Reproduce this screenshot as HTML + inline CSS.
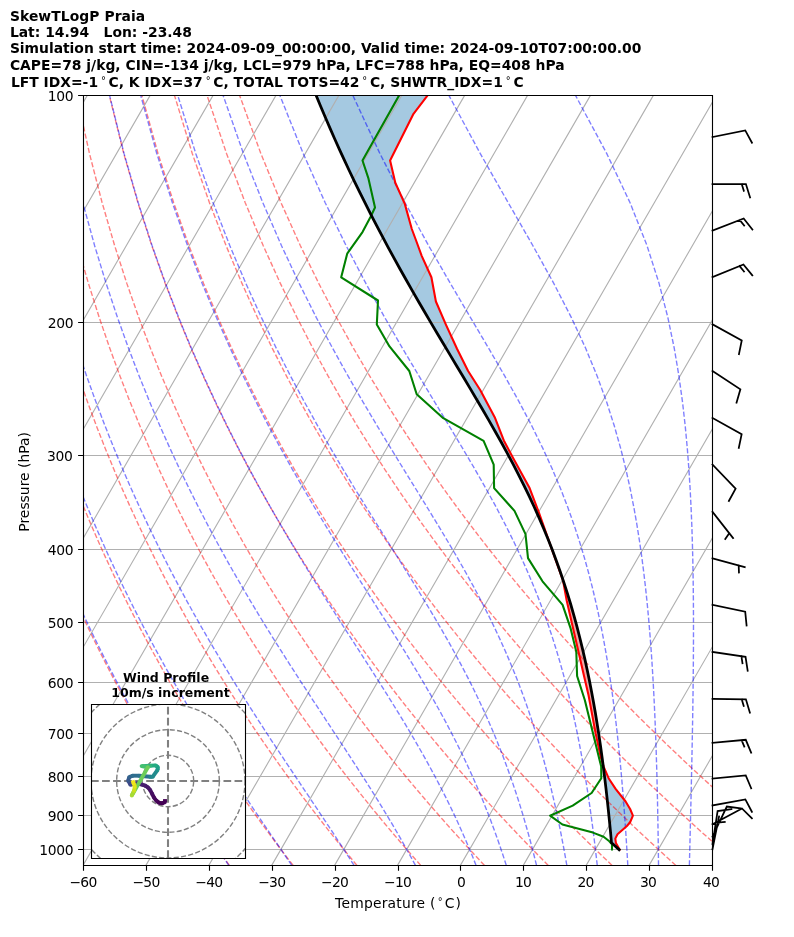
<!DOCTYPE html><html><head><meta charset="utf-8"><title>SkewTLogP Praia</title>
<style>html,body{margin:0;padding:0;background:#fff}svg{display:block;will-change:transform;transform:translateZ(0)}text{font-family:"DejaVu Sans","Liberation Sans",sans-serif;fill:#000}</style></head><body>
<svg width="794" height="937" viewBox="0 0 794 937">
<rect width="794" height="937" fill="#fff"/>
<defs><clipPath id="ax"><rect x="83.0" y="95.4" width="629.0" height="770.0"/></clipPath>
<clipPath id="hd"><rect x="91" y="704" width="154" height="154"/></clipPath></defs>
<g clip-path="url(#ax)">
<polygon points="316.15,95.4 316.36,95.9 316.57,96.4 316.77,96.9 316.98,97.4 317.19,97.9 317.39,98.4 317.6,98.9 317.8,99.4 318.01,99.9 318.22,100.4 318.42,100.9 318.63,101.4 318.84,101.9 319.04,102.4 319.25,102.9 319.45,103.4 319.66,103.9 319.87,104.4 320.07,104.9 320.28,105.4 320.48,105.9 320.69,106.4 320.9,106.9 321.11,107.4 321.33,107.9 321.54,108.4 321.75,108.9 321.96,109.4 322.17,109.9 322.38,110.4 322.59,110.9 322.8,111.4 323.01,111.9 323.22,112.4 323.43,112.9 323.64,113.4 323.86,113.9 324.07,114.4 324.28,114.9 324.49,115.4 324.7,115.9 324.91,116.4 325.12,116.9 325.33,117.4 325.55,117.9 325.77,118.4 325.98,118.9 326.2,119.4 326.41,119.9 326.63,120.4 326.84,120.9 327.06,121.4 327.27,121.9 327.49,122.4 327.71,122.9 327.92,123.4 328.14,123.9 328.35,124.4 328.57,124.9 328.78,125.4 329,125.9 329.21,126.4 329.43,126.9 329.65,127.4 329.86,127.9 330.08,128.4 330.3,128.9 330.52,129.4 330.74,129.9 330.96,130.4 331.18,130.9 331.4,131.4 331.62,131.9 331.84,132.4 332.06,132.9 332.28,133.4 332.5,133.9 332.72,134.4 332.94,134.9 333.16,135.4 333.38,135.9 333.61,136.4 333.83,136.9 334.05,137.4 334.27,137.9 334.49,138.4 334.71,138.9 334.93,139.4 335.16,139.9 335.38,140.4 335.61,140.9 335.83,141.4 336.06,141.9 336.28,142.4 336.51,142.9 336.73,143.4 336.96,143.9 337.18,144.4 337.41,144.9 337.63,145.4 337.86,145.9 338.08,146.4 338.31,146.9 338.53,147.4 338.76,147.9 338.98,148.4 339.21,148.9 339.43,149.4 339.66,149.9 339.89,150.4 340.12,150.9 340.35,151.4 340.58,151.9 340.81,152.4 341.04,152.9 341.27,153.4 341.5,153.9 341.73,154.4 341.96,154.9 342.19,155.4 342.42,155.9 342.65,156.4 342.88,156.9 343.11,157.4 343.34,157.9 343.57,158.4 343.8,158.9 344.03,159.4 344.26,159.9 344.49,160.4 344.72,160.9 344.96,161.4 345.19,161.9 345.42,162.4 345.66,162.9 345.89,163.4 346.13,163.9 346.36,164.4 346.6,164.9 346.83,165.4 347.07,165.9 347.3,166.4 347.54,166.9 347.77,167.4 348,167.9 348.24,168.4 348.47,168.9 348.71,169.4 348.94,169.9 349.18,170.4 349.41,170.9 349.65,171.4 349.89,171.9 350.13,172.4 350.37,172.9 350.61,173.4 350.84,173.9 351.08,174.4 351.32,174.9 351.56,175.4 351.8,175.9 352.04,176.4 352.28,176.9 352.52,177.4 352.76,177.9 353,178.4 353.24,178.9 353.48,179.4 353.72,179.9 353.96,180.4 354.2,180.9 354.43,181.4 354.67,181.9 354.92,182.4 355.16,182.9 355.4,183.4 355.65,183.9 355.89,184.4 356.14,184.9 356.38,185.4 356.63,185.9 356.87,186.4 357.11,186.9 357.36,187.4 357.6,187.9 357.85,188.4 358.09,188.9 358.33,189.4 358.58,189.9 358.82,190.4 359.07,190.9 359.31,191.4 359.55,191.9 359.8,192.4 360.04,192.9 360.29,193.4 360.54,193.9 360.79,194.4 361.04,194.9 361.29,195.4 361.54,195.9 361.79,196.4 362.03,196.9 362.28,197.4 362.53,197.9 362.78,198.4 363.03,198.9 363.28,199.4 363.53,199.9 363.78,200.4 364.02,200.9 364.27,201.4 364.52,201.9 364.77,202.4 365.02,202.9 365.27,203.4 365.52,203.9 365.77,204.4 366.03,204.9 366.28,205.4 366.53,205.9 366.79,206.4 367.04,206.9 367.3,207.4 367.55,207.9 367.8,208.4 368.06,208.9 368.31,209.4 368.56,209.9 368.82,210.4 369.07,210.9 369.32,211.4 369.58,211.9 369.83,212.4 370.09,212.9 370.34,213.4 370.59,213.9 370.85,214.4 371.1,214.9 371.36,215.4 371.62,215.9 371.88,216.4 372.14,216.9 372.39,217.4 372.65,217.9 372.91,218.4 373.17,218.9 373.43,219.4 373.69,219.9 373.94,220.4 374.2,220.9 374.46,221.4 374.72,221.9 374.98,222.4 375.24,222.9 375.49,223.4 375.75,223.9 376.01,224.4 376.27,224.9 376.53,225.4 376.79,225.9 377.05,226.4 377.32,226.9 377.58,227.4 377.84,227.9 378.11,228.4 378.37,228.9 378.63,229.4 378.89,229.9 379.16,230.4 379.42,230.9 379.68,231.4 379.95,231.9 380.21,232.4 380.47,232.9 380.73,233.4 381,233.9 381.26,234.4 381.52,234.9 381.79,235.4 382.05,235.9 382.31,236.4 382.58,236.9 382.85,237.4 383.12,237.9 383.38,238.4 383.65,238.9 383.92,239.4 384.19,239.9 384.45,240.4 384.72,240.9 384.99,241.4 385.26,241.9 385.52,242.4 385.79,242.9 386.06,243.4 386.33,243.9 386.59,244.4 386.86,244.9 387.13,245.4 387.4,245.9 387.66,246.4 387.93,246.9 388.2,247.4 388.47,247.9 388.75,248.4 389.02,248.9 389.29,249.4 389.56,249.9 389.83,250.4 390.1,250.9 390.38,251.4 390.65,251.9 390.92,252.4 391.19,252.9 391.46,253.4 391.74,253.9 392.01,254.4 392.28,254.9 392.55,255.4 392.82,255.9 393.1,256.4 393.37,256.9 393.64,257.4 393.91,257.9 394.19,258.4 394.46,258.9 394.74,259.4 395.02,259.9 395.29,260.4 395.57,260.9 395.84,261.4 396.12,261.9 396.4,262.4 396.67,262.9 396.95,263.4 397.23,263.9 397.5,264.4 397.78,264.9 398.05,265.4 398.33,265.9 398.61,266.4 398.88,266.9 399.16,267.4 399.44,267.9 399.71,268.4 399.99,268.9 400.27,269.4 400.55,269.9 400.83,270.4 401.11,270.9 401.39,271.4 401.67,271.9 401.95,272.4 402.23,272.9 402.51,273.4 402.79,273.9 403.07,274.4 403.35,274.9 403.63,275.4 403.91,275.9 404.19,276.4 404.47,276.9 404.75,277.4 405.03,277.9 405.31,278.4 405.59,278.9 405.87,279.4 406.16,279.9 406.44,280.4 406.73,280.9 407.01,281.4 407.29,281.9 407.58,282.4 407.86,282.9 408.15,283.4 408.43,283.9 408.71,284.4 409,284.9 409.28,285.4 409.57,285.9 409.85,286.4 410.13,286.9 410.42,287.4 410.7,287.9 410.99,288.4 411.27,288.9 411.56,289.4 411.84,289.9 412.12,290.4 412.41,290.9 412.7,291.4 412.99,291.9 413.27,292.4 413.56,292.9 413.85,293.4 414.14,293.9 414.42,294.4 414.71,294.9 415,295.4 415.29,295.9 415.58,296.4 415.86,296.9 416.15,297.4 416.44,297.9 416.73,298.4 417.01,298.9 417.3,299.4 417.59,299.9 417.88,300.4 418.16,300.9 418.45,301.4 418.74,301.9 419.04,302.4 419.33,302.9 419.62,303.4 419.91,303.9 420.2,304.4 420.49,304.9 420.78,305.4 421.07,305.9 421.36,306.4 421.65,306.9 421.94,307.4 422.23,307.9 422.53,308.4 422.82,308.9 423.11,309.4 423.4,309.9 423.69,310.4 423.98,310.9 424.27,311.4 424.56,311.9 424.85,312.4 425.15,312.9 425.44,313.4 425.74,313.9 426.03,314.4 426.32,314.9 426.62,315.4 426.91,315.9 427.2,316.4 427.5,316.9 427.79,317.4 428.09,317.9 428.38,318.4 428.67,318.9 428.97,319.4 429.26,319.9 429.55,320.4 429.85,320.9 430.14,321.4 430.43,321.9 430.73,322.4 431.02,322.9 431.32,323.4 431.61,323.9 431.91,324.4 432.21,324.9 432.5,325.4 432.8,325.9 433.09,326.4 433.39,326.9 433.69,327.4 433.98,327.9 434.28,328.4 434.58,328.9 434.87,329.4 435.17,329.9 435.46,330.4 435.76,330.9 436.06,331.4 436.35,331.9 436.65,332.4 436.94,332.9 437.24,333.4 437.54,333.9 437.83,334.4 438.13,334.9 438.43,335.4 438.73,335.9 439.03,336.4 439.32,336.9 439.62,337.4 439.92,337.9 440.22,338.4 440.52,338.9 440.81,339.4 441.11,339.9 441.41,340.4 441.71,340.9 442,341.4 442.3,341.9 442.6,342.4 442.9,342.9 443.2,343.4 443.49,343.9 443.79,344.4 444.09,344.9 444.39,345.4 444.69,345.9 444.99,346.4 445.29,346.9 445.59,347.4 445.89,347.9 446.18,348.4 446.48,348.9 446.78,349.4 447.08,349.9 447.38,350.4 447.68,350.9 447.98,351.4 448.28,351.9 448.58,352.4 448.88,352.9 449.17,353.4 449.47,353.9 449.77,354.4 450.07,354.9 450.37,355.4 450.67,355.9 450.97,356.4 451.27,356.9 451.57,357.4 451.87,357.9 452.17,358.4 452.47,358.9 452.77,359.4 453.07,359.9 453.37,360.4 453.67,360.9 453.97,361.4 454.27,361.9 454.57,362.4 454.87,362.9 455.17,363.4 455.46,363.9 455.76,364.4 456.06,364.9 456.36,365.4 456.66,365.9 456.96,366.4 457.26,366.9 457.56,367.4 457.86,367.9 458.16,368.4 458.46,368.9 458.76,369.4 459.06,369.9 459.36,370.4 459.66,370.9 459.96,371.4 460.26,371.9 460.56,372.4 460.86,372.9 461.15,373.4 461.45,373.9 461.75,374.4 462.05,374.9 462.35,375.4 462.65,375.9 462.95,376.4 463.25,376.9 463.55,377.4 463.85,377.9 464.15,378.4 464.44,378.9 464.74,379.4 465.04,379.9 465.34,380.4 465.64,380.9 465.94,381.4 466.24,381.9 466.53,382.4 466.83,382.9 467.13,383.4 467.43,383.9 467.73,384.4 468.03,384.9 468.32,385.4 468.62,385.9 468.92,386.4 469.22,386.9 469.52,387.4 469.82,387.9 470.11,388.4 470.41,388.9 470.71,389.4 471,389.9 471.3,390.4 471.6,390.9 471.89,391.4 472.19,391.9 472.48,392.4 472.78,392.9 473.08,393.4 473.37,393.9 473.67,394.4 473.97,394.9 474.26,395.4 474.56,395.9 474.86,396.4 475.15,396.9 475.45,397.4 475.75,397.9 476.04,398.4 476.34,398.9 476.63,399.4 476.93,399.9 477.22,400.4 477.51,400.9 477.81,401.4 478.1,401.9 478.4,402.4 478.69,402.9 478.98,403.4 479.28,403.9 479.57,404.4 479.86,404.9 480.16,405.4 480.45,405.9 480.75,406.4 481.04,406.9 481.33,407.4 481.63,407.9 481.92,408.4 482.22,408.9 482.51,409.4 482.8,409.9 483.09,410.4 483.38,410.9 483.67,411.4 483.96,411.9 484.25,412.4 484.54,412.9 484.83,413.4 485.12,413.9 485.41,414.4 485.7,414.9 485.99,415.4 486.28,415.9 486.57,416.4 486.86,416.9 487.15,417.4 487.44,417.9 487.73,418.4 488.02,418.9 488.31,419.4 488.6,419.9 488.89,420.4 489.18,420.9 489.47,421.4 489.75,421.9 490.04,422.4 490.32,422.9 490.61,423.4 490.89,423.9 491.18,424.4 491.47,424.9 491.75,425.4 492.04,425.9 492.32,426.4 492.61,426.9 492.89,427.4 493.18,427.9 493.46,428.4 493.75,428.9 494.04,429.4 494.32,429.9 494.61,430.4 494.89,430.9 495.18,431.4 495.46,431.9 495.74,432.4 496.02,432.9 496.3,433.4 496.58,433.9 496.86,434.4 497.14,434.9 497.42,435.4 497.7,435.9 497.98,436.4 498.26,436.9 498.54,437.4 498.82,437.9 499.1,438.4 499.38,438.9 499.66,439.4 499.94,439.9 500.22,440.4 500.5,440.9 500.78,441.4 501.06,441.9 501.34,442.4 501.61,442.9 501.89,443.4 502.16,443.9 502.43,444.4 502.71,444.9 502.98,445.4 503.26,445.9 503.53,446.4 503.8,446.9 504.08,447.4 504.35,447.9 504.63,448.4 504.9,448.9 505.17,449.4 505.45,449.9 505.72,450.4 506,450.9 506.27,451.4 506.55,451.9 506.82,452.4 507.09,452.9 507.36,453.4 507.63,453.9 507.89,454.4 508.16,454.9 508.43,455.4 508.7,455.9 508.96,456.4 509.23,456.9 509.5,457.4 509.76,457.9 510.03,458.4 510.3,458.9 510.57,459.4 510.83,459.9 511.1,460.4 511.37,460.9 511.63,461.4 511.9,461.9 512.17,462.4 512.44,462.9 512.7,463.4 512.97,463.9 513.23,464.4 513.49,464.9 513.74,465.4 514,465.9 514.26,466.4 514.52,466.9 514.78,467.4 515.04,467.9 515.3,468.4 515.56,468.9 515.82,469.4 516.08,469.9 516.34,470.4 516.6,470.9 516.86,471.4 517.12,471.9 517.38,472.4 517.64,472.9 517.9,473.4 518.16,473.9 518.42,474.4 518.67,474.9 518.92,475.4 519.17,475.9 519.42,476.4 519.67,476.9 519.92,477.4 520.18,477.9 520.43,478.4 520.68,478.9 520.93,479.4 521.18,479.9 521.43,480.4 521.68,480.9 521.94,481.4 522.19,481.9 522.44,482.4 522.69,482.9 522.94,483.4 523.19,483.9 523.44,484.4 523.69,484.9 523.94,485.4 524.19,485.9 524.43,486.4 524.67,486.9 524.92,487.4 525.16,487.9 525.4,488.4 525.64,488.9 525.89,489.4 526.13,489.9 526.37,490.4 526.61,490.9 526.86,491.4 527.1,491.9 527.34,492.4 527.58,492.9 527.83,493.4 528.07,493.9 528.31,494.4 528.55,494.9 528.8,495.4 529.04,495.9 529.28,496.4 529.51,496.9 529.75,497.4 529.98,497.9 530.21,498.4 530.45,498.9 530.68,499.4 530.91,499.9 531.15,500.4 531.38,500.9 531.61,501.4 531.85,501.9 532.08,502.4 532.32,502.9 532.55,503.4 532.78,503.9 533.02,504.4 533.25,504.9 533.48,505.4 533.72,505.9 533.95,506.4 534.18,506.9 534.41,507.4 534.63,507.9 534.86,508.4 535.08,508.9 535.31,509.4 535.53,509.9 535.76,510.4 535.98,510.9 536.21,511.4 536.43,511.9 536.65,512.4 536.88,512.9 537.1,513.4 537.33,513.9 537.55,514.4 537.78,514.9 538,515.4 538.22,515.9 538.45,516.4 538.67,516.9 538.9,517.4 539.12,517.9 539.34,518.4 539.55,518.9 539.77,519.4 539.98,519.9 540.2,520.4 540.41,520.9 540.63,521.4 540.84,521.9 541.05,522.4 541.27,522.9 541.48,523.4 541.7,523.9 541.91,524.4 542.13,524.9 542.34,525.4 542.56,525.9 542.77,526.4 542.99,526.9 543.2,527.4 543.42,527.9 543.63,528.4 543.84,528.9 544.05,529.4 544.26,529.9 544.46,530.4 544.67,530.9 544.87,531.4 545.08,531.9 545.28,532.4 545.49,532.9 545.69,533.4 545.9,533.9 546.11,534.4 546.31,534.9 546.52,535.4 546.72,535.9 546.93,536.4 547.13,536.9 547.34,537.4 547.54,537.9 547.75,538.4 547.95,538.9 548.16,539.4 548.36,539.9 548.55,540.4 548.75,540.9 548.95,541.4 549.14,541.9 549.34,542.4 549.53,542.9 549.73,543.4 549.76,543.4 549.58,542.9 549.41,542.4 549.23,541.9 549.05,541.4 548.88,540.9 548.7,540.4 548.52,539.9 548.35,539.4 548.17,538.9 548,538.4 547.82,537.9 547.64,537.4 547.47,536.9 547.29,536.4 547.11,535.9 546.94,535.4 546.76,534.9 546.58,534.4 546.41,533.9 546.23,533.4 546.06,532.9 545.88,532.4 545.7,531.9 545.53,531.4 545.35,530.9 545.17,530.4 545,529.9 544.82,529.4 544.64,528.9 544.47,528.4 544.29,527.9 544.12,527.4 543.94,526.9 543.76,526.4 543.59,525.9 543.41,525.4 543.23,524.9 543.06,524.4 542.88,523.9 542.7,523.4 542.53,522.9 542.35,522.4 542.17,521.9 542,521.4 541.82,520.9 541.65,520.4 541.47,519.9 541.29,519.4 541.12,518.9 540.94,518.4 540.76,517.9 540.59,517.4 540.41,516.9 540.23,516.4 540.06,515.9 539.88,515.4 539.71,514.9 539.53,514.4 539.35,513.9 539.18,513.4 539,512.9 538.81,512.4 538.62,511.9 538.43,511.4 538.24,510.9 538.05,510.4 537.86,509.9 537.67,509.4 537.48,508.9 537.29,508.4 537.1,507.9 536.92,507.4 536.73,506.9 536.54,506.4 536.35,505.9 536.16,505.4 535.97,504.9 535.78,504.4 535.59,503.9 535.4,503.4 535.21,502.9 535.02,502.4 534.83,501.9 534.64,501.4 534.45,500.9 534.26,500.4 534.07,499.9 533.88,499.4 533.69,498.9 533.5,498.4 533.31,497.9 533.12,497.4 532.94,496.9 532.75,496.4 532.56,495.9 532.37,495.4 532.18,494.9 531.99,494.4 531.8,493.9 531.61,493.4 531.42,492.9 531.23,492.4 531.04,491.9 530.85,491.4 530.66,490.9 530.47,490.4 530.28,489.9 530.09,489.4 529.9,488.9 529.71,488.4 529.49,487.9 529.22,487.4 528.94,486.9 528.67,486.4 528.39,485.9 528.12,485.4 527.84,484.9 527.57,484.4 527.29,483.9 527.02,483.4 526.75,482.9 526.47,482.4 526.2,481.9 525.92,481.4 525.65,480.9 525.37,480.4 525.1,479.9 524.82,479.4 524.55,478.9 524.27,478.4 524,477.9 523.73,477.4 523.45,476.9 523.18,476.4 522.9,475.9 522.63,475.4 522.35,474.9 522.08,474.4 521.8,473.9 521.53,473.4 521.25,472.9 520.98,472.4 520.71,471.9 520.43,471.4 520.16,470.9 519.88,470.4 519.61,469.9 519.33,469.4 519.06,468.9 518.78,468.4 518.51,467.9 518.24,467.4 517.96,466.9 517.69,466.4 517.41,465.9 517.14,465.4 516.86,464.9 516.59,464.4 516.31,463.9 516.04,463.4 515.76,462.9 515.49,462.4 515.22,461.9 514.94,461.4 514.67,460.9 514.39,460.4 514.12,459.9 513.84,459.4 513.57,458.9 513.29,458.4 513.02,457.9 512.75,457.4 512.48,456.9 512.22,456.4 511.96,455.9 511.69,455.4 511.43,454.9 511.17,454.4 510.91,453.9 510.64,453.4 510.38,452.9 510.12,452.4 509.85,451.9 509.59,451.4 509.33,450.9 509.06,450.4 508.8,449.9 508.54,449.4 508.27,448.9 508.01,448.4 507.75,447.9 507.48,447.4 507.22,446.9 506.96,446.4 506.69,445.9 506.43,445.4 506.17,444.9 505.91,444.4 505.64,443.9 505.38,443.4 505.12,442.9 504.85,442.4 504.59,441.9 504.33,441.4 504.06,440.9 503.8,440.4 503.6,439.9 503.41,439.4 503.21,438.9 503.02,438.4 502.82,437.9 502.62,437.4 502.43,436.9 502.23,436.4 502.03,435.9 501.84,435.4 501.64,434.9 501.45,434.4 501.25,433.9 501.05,433.4 500.86,432.9 500.66,432.4 500.47,431.9 500.27,431.4 500.07,430.9 499.88,430.4 499.68,429.9 499.49,429.4 499.29,428.9 499.09,428.4 498.9,427.9 498.7,427.4 498.5,426.9 498.31,426.4 498.11,425.9 497.92,425.4 497.72,424.9 497.52,424.4 497.33,423.9 497.13,423.4 496.94,422.9 496.74,422.4 496.54,421.9 496.35,421.4 496.15,420.9 495.96,420.4 495.76,419.9 495.56,419.4 495.37,418.9 495.17,418.4 494.97,417.9 494.78,417.4 494.54,416.9 494.27,416.4 494.01,415.9 493.74,415.4 493.47,414.9 493.21,414.4 492.94,413.9 492.67,413.4 492.41,412.9 492.14,412.4 491.87,411.9 491.61,411.4 491.34,410.9 491.07,410.4 490.81,409.9 490.54,409.4 490.28,408.9 490.01,408.4 489.74,407.9 489.48,407.4 489.21,406.9 488.94,406.4 488.68,405.9 488.41,405.4 488.14,404.9 487.88,404.4 487.61,403.9 487.34,403.4 487.08,402.9 486.81,402.4 486.54,401.9 486.28,401.4 486.01,400.9 485.74,400.4 485.48,399.9 485.21,399.4 484.94,398.9 484.68,398.4 484.41,397.9 484.14,397.4 483.88,396.9 483.61,396.4 483.35,395.9 483.08,395.4 482.81,394.9 482.55,394.4 482.28,393.9 482.01,393.4 481.75,392.9 481.48,392.4 481.21,391.9 480.95,391.4 480.68,390.9 480.41,390.4 480.14,389.9 479.82,389.4 479.5,388.9 479.18,388.4 478.86,387.9 478.54,387.4 478.23,386.9 477.91,386.4 477.59,385.9 477.27,385.4 476.95,384.9 476.63,384.4 476.32,383.9 476,383.4 475.68,382.9 475.36,382.4 475.04,381.9 474.72,381.4 474.4,380.9 474.09,380.4 473.77,379.9 473.45,379.4 473.13,378.9 472.81,378.4 472.49,377.9 472.18,377.4 471.86,376.9 471.54,376.4 471.22,375.9 470.9,375.4 470.58,374.9 470.27,374.4 469.95,373.9 469.63,373.4 469.31,372.9 468.99,372.4 468.67,371.9 468.35,371.4 468.05,370.9 467.8,370.4 467.55,369.9 467.3,369.4 467.05,368.9 466.8,368.4 466.55,367.9 466.3,367.4 466.05,366.9 465.8,366.4 465.55,365.9 465.3,365.4 465.05,364.9 464.8,364.4 464.55,363.9 464.3,363.4 464.05,362.9 463.8,362.4 463.55,361.9 463.3,361.4 463.05,360.9 462.8,360.4 462.55,359.9 462.3,359.4 462.05,358.9 461.8,358.4 461.55,357.9 461.3,357.4 461.05,356.9 460.8,356.4 460.55,355.9 460.3,355.4 460.05,354.9 459.8,354.4 459.55,353.9 459.3,353.4 459.05,352.9 458.8,352.4 458.55,351.9 458.3,351.4 458.05,350.9 457.8,350.4 457.55,349.9 457.3,349.4 457.05,348.9 456.82,348.4 456.59,347.9 456.36,347.4 456.13,346.9 455.9,346.4 455.67,345.9 455.44,345.4 455.21,344.9 454.98,344.4 454.75,343.9 454.52,343.4 454.29,342.9 454.06,342.4 453.84,341.9 453.61,341.4 453.38,340.9 453.15,340.4 452.92,339.9 452.69,339.4 452.46,338.9 452.23,338.4 452,337.9 451.77,337.4 451.54,336.9 451.31,336.4 451.08,335.9 450.85,335.4 450.62,334.9 450.4,334.4 450.17,333.9 449.94,333.4 449.71,332.9 449.48,332.4 449.25,331.9 449.02,331.4 448.79,330.9 448.56,330.4 448.33,329.9 448.1,329.4 447.87,328.9 447.64,328.4 447.41,327.9 447.18,327.4 446.95,326.9 446.73,326.4 446.5,325.9 446.27,325.4 446.04,324.9 445.81,324.4 445.6,323.9 445.38,323.4 445.16,322.9 444.95,322.4 444.73,321.9 444.51,321.4 444.3,320.9 444.08,320.4 443.87,319.9 443.65,319.4 443.43,318.9 443.22,318.4 443,317.9 442.78,317.4 442.57,316.9 442.35,316.4 442.13,315.9 441.92,315.4 441.7,314.9 441.48,314.4 441.27,313.9 441.05,313.4 440.84,312.9 440.62,312.4 440.4,311.9 440.19,311.4 439.97,310.9 439.75,310.4 439.54,309.9 439.32,309.4 439.1,308.9 438.89,308.4 438.67,307.9 438.45,307.4 438.24,306.9 438.02,306.4 437.8,305.9 437.59,305.4 437.37,304.9 437.16,304.4 436.94,303.9 436.72,303.4 436.51,302.9 436.29,302.4 436.07,301.9 435.88,301.4 435.79,300.9 435.7,300.4 435.6,299.9 435.51,299.4 435.42,298.9 435.32,298.4 435.23,297.9 435.14,297.4 435.04,296.9 434.95,296.4 434.86,295.9 434.77,295.4 434.67,294.9 434.58,294.4 434.49,293.9 434.39,293.4 434.3,292.9 434.21,292.4 434.11,291.9 434.02,291.4 433.93,290.9 433.84,290.4 433.74,289.9 433.65,289.4 433.56,288.9 433.46,288.4 433.37,287.9 433.28,287.4 433.19,286.9 433.09,286.4 433,285.9 432.91,285.4 432.81,284.9 432.72,284.4 432.63,283.9 432.53,283.4 432.44,282.9 432.35,282.4 432.26,281.9 432.16,281.4 432.07,280.9 431.98,280.4 431.88,279.9 431.79,279.4 431.7,278.9 431.6,278.4 431.51,277.9 431.42,277.4 431.22,276.9 430.99,276.4 430.77,275.9 430.54,275.4 430.31,274.9 430.09,274.4 429.86,273.9 429.63,273.4 429.41,272.9 429.18,272.4 428.95,271.9 428.73,271.4 428.5,270.9 428.28,270.4 428.05,269.9 427.82,269.4 427.6,268.9 427.37,268.4 427.14,267.9 426.92,267.4 426.69,266.9 426.46,266.4 426.24,265.9 426.01,265.4 425.78,264.9 425.56,264.4 425.33,263.9 425.11,263.4 424.88,262.9 424.65,262.4 424.43,261.9 424.2,261.4 423.97,260.9 423.75,260.4 423.52,259.9 423.29,259.4 423.07,258.9 422.84,258.4 422.62,257.9 422.39,257.4 422.16,256.9 421.94,256.4 421.73,255.9 421.54,255.4 421.36,254.9 421.18,254.4 420.99,253.9 420.81,253.4 420.63,252.9 420.44,252.4 420.26,251.9 420.08,251.4 419.89,250.9 419.71,250.4 419.53,249.9 419.34,249.4 419.16,248.9 418.98,248.4 418.8,247.9 418.61,247.4 418.43,246.9 418.25,246.4 418.06,245.9 417.88,245.4 417.7,244.9 417.51,244.4 417.33,243.9 417.15,243.4 416.96,242.9 416.78,242.4 416.6,241.9 416.41,241.4 416.23,240.9 416.05,240.4 415.86,239.9 415.68,239.4 415.49,238.9 415.3,238.4 415.12,237.9 414.93,237.4 414.74,236.9 414.56,236.4 414.37,235.9 414.19,235.4 414,234.9 413.81,234.4 413.63,233.9 413.44,233.4 413.25,232.9 413.07,232.4 412.88,231.9 412.69,231.4 412.51,230.9 412.32,230.4 412.14,229.9 411.95,229.4 411.77,228.9 411.63,228.4 411.49,227.9 411.35,227.4 411.21,226.9 411.07,226.4 410.94,225.9 410.8,225.4 410.66,224.9 410.52,224.4 410.38,223.9 410.24,223.4 410.1,222.9 409.96,222.4 409.82,221.9 409.68,221.4 409.54,220.9 409.4,220.4 409.26,219.9 409.12,219.4 408.98,218.9 408.84,218.4 408.7,217.9 408.56,217.4 408.43,216.9 408.29,216.4 408.15,215.9 408.01,215.4 407.87,214.9 407.73,214.4 407.59,213.9 407.45,213.4 407.31,212.9 407.17,212.4 407.03,211.9 406.89,211.4 406.75,210.9 406.61,210.4 406.47,209.9 406.33,209.4 406.19,208.9 406.05,208.4 405.92,207.9 405.78,207.4 405.64,206.9 405.5,206.4 405.36,205.9 405.22,205.4 405.08,204.9 404.94,204.4 404.8,203.9 404.58,203.4 404.35,202.9 404.13,202.4 403.9,201.9 403.68,201.4 403.46,200.9 403.23,200.4 403.01,199.9 402.78,199.4 402.56,198.9 402.34,198.4 402.11,197.9 401.89,197.4 401.66,196.9 401.44,196.4 401.22,195.9 400.99,195.4 400.77,194.9 400.54,194.4 400.32,193.9 400.09,193.4 399.87,192.9 399.65,192.4 399.42,191.9 399.2,191.4 398.97,190.9 398.75,190.4 398.53,189.9 398.3,189.4 398.08,188.9 397.85,188.4 397.63,187.9 397.41,187.4 397.18,186.9 396.96,186.4 396.73,185.9 396.51,185.4 396.29,184.9 396.06,184.4 395.84,183.9 395.61,183.4 395.39,182.9 395.23,182.4 395.11,181.9 395,181.4 394.88,180.9 394.76,180.4 394.64,179.9 394.53,179.4 394.41,178.9 394.29,178.4 394.18,177.9 394.06,177.4 393.94,176.9 393.82,176.4 393.71,175.9 393.59,175.4 393.47,174.9 393.36,174.4 393.24,173.9 393.12,173.4 393,172.9 392.89,172.4 392.77,171.9 392.65,171.4 392.54,170.9 392.42,170.4 392.3,169.9 392.18,169.4 392.07,168.9 391.95,168.4 391.83,167.9 391.72,167.4 391.6,166.9 391.48,166.4 391.36,165.9 391.25,165.4 391.13,164.9 391.01,164.4 390.9,163.9 390.78,163.4 390.66,162.9 390.55,162.4 390.43,161.9 390.31,161.4 390.19,160.9 390.15,160.4 390.4,159.9 390.65,159.4 390.9,158.9 391.15,158.4 391.4,157.9 391.65,157.4 391.9,156.9 392.15,156.4 392.4,155.9 392.66,155.4 392.91,154.9 393.16,154.4 393.41,153.9 393.66,153.4 393.91,152.9 394.16,152.4 394.41,151.9 394.66,151.4 394.91,150.9 395.16,150.4 395.41,149.9 395.66,149.4 395.91,148.9 396.16,148.4 396.41,147.9 396.66,147.4 396.91,146.9 397.17,146.4 397.42,145.9 397.67,145.4 397.92,144.9 398.17,144.4 398.42,143.9 398.67,143.4 398.92,142.9 399.17,142.4 399.42,141.9 399.67,141.4 399.92,140.9 400.17,140.4 400.42,139.9 400.67,139.4 400.92,138.9 401.17,138.4 401.42,137.9 401.67,137.4 401.93,136.9 402.18,136.4 402.43,135.9 402.68,135.4 402.93,134.9 403.18,134.4 403.43,133.9 403.68,133.4 403.93,132.9 404.18,132.4 404.43,131.9 404.68,131.4 404.93,130.9 405.18,130.4 405.43,129.9 405.68,129.4 405.93,128.9 406.18,128.4 406.43,127.9 406.69,127.4 406.94,126.9 407.19,126.4 407.44,125.9 407.69,125.4 407.94,124.9 408.19,124.4 408.44,123.9 408.69,123.4 408.94,122.9 409.19,122.4 409.44,121.9 409.69,121.4 409.94,120.9 410.19,120.4 410.44,119.9 410.69,119.4 410.94,118.9 411.2,118.4 411.45,117.9 411.7,117.4 411.95,116.9 412.2,116.4 412.45,115.9 412.7,115.4 412.95,114.9 413.2,114.4 413.45,113.9 413.81,113.4 414.19,112.9 414.57,112.4 414.96,111.9 415.34,111.4 415.72,110.9 416.11,110.4 416.49,109.9 416.87,109.4 417.25,108.9 417.64,108.4 418.02,107.9 418.4,107.4 418.79,106.9 419.17,106.4 419.55,105.9 419.94,105.4 420.32,104.9 420.7,104.4 421.09,103.9 421.47,103.4 421.85,102.9 422.24,102.4 422.62,101.9 423,101.4 423.39,100.9 423.77,100.4 424.15,99.9 424.53,99.4 424.92,98.9 425.3,98.4 425.68,97.9 426.07,97.4 426.45,96.9 426.83,96.4 427.22,95.9 427.6,95.4" fill="#a5c9e1"/>
<polygon points="603.08,764.9 603.14,765.4 603.21,765.9 603.27,766.4 603.34,766.9 603.4,767.4 603.47,767.9 603.53,768.4 603.59,768.9 603.65,769.4 603.72,769.9 603.78,770.4 603.84,770.9 603.9,771.4 603.97,771.9 604.03,772.4 604.09,772.9 604.15,773.4 604.22,773.9 604.28,774.4 604.34,774.9 604.4,775.4 604.47,775.9 604.53,776.4 604.59,776.9 604.65,777.4 604.72,777.9 604.78,778.4 604.84,778.9 604.89,779.4 604.95,779.9 605.01,780.4 605.07,780.9 605.13,781.4 605.19,781.9 605.25,782.4 605.31,782.9 605.37,783.4 605.43,783.9 605.49,784.4 605.55,784.9 605.61,785.4 605.67,785.9 605.73,786.4 605.78,786.9 605.84,787.4 605.9,787.9 605.96,788.4 606.02,788.9 606.08,789.4 606.13,789.9 606.19,790.4 606.25,790.9 606.3,791.4 606.36,791.9 606.41,792.4 606.47,792.9 606.53,793.4 606.58,793.9 606.64,794.4 606.7,794.9 606.75,795.4 606.81,795.9 606.86,796.4 606.92,796.9 606.98,797.4 607.03,797.9 607.09,798.4 607.15,798.9 607.2,799.4 607.26,799.9 607.31,800.4 607.36,800.9 607.42,801.4 607.47,801.9 607.52,802.4 607.58,802.9 607.63,803.4 607.68,803.9 607.74,804.4 607.79,804.9 607.84,805.4 607.9,805.9 607.95,806.4 608,806.9 608.06,807.4 608.11,807.9 608.16,808.4 608.22,808.9 608.27,809.4 608.32,809.9 608.38,810.4 608.43,810.9 608.48,811.4 608.53,811.9 608.58,812.4 608.63,812.9 608.68,813.4 608.73,813.9 608.78,814.4 608.83,814.9 608.88,815.4 608.93,815.9 608.98,816.4 609.03,816.9 609.09,817.4 609.14,817.9 609.19,818.4 609.24,818.9 609.29,819.4 609.34,819.9 609.39,820.4 609.44,820.9 609.49,821.4 609.54,821.9 609.59,822.4 609.63,822.9 609.68,823.4 609.73,823.9 609.78,824.4 609.83,824.9 609.87,825.4 609.92,825.9 609.97,826.4 610.02,826.9 610.07,827.4 610.12,827.9 610.16,828.4 610.21,828.9 610.26,829.4 610.31,829.9 610.36,830.4 610.4,830.9 610.45,831.4 610.5,831.9 610.55,832.4 610.59,832.9 610.64,833.4 610.68,833.9 610.73,834.4 610.78,834.9 610.82,835.4 610.87,835.9 610.91,836.4 610.96,836.9 611.01,837.4 611.05,837.9 611.1,838.4 611.14,838.9 611.19,839.4 611.23,839.9 611.28,840.4 611.33,840.9 611.37,841.4 611.42,841.9 611.46,842.4 611.61,842.9 612.17,843.4 612.73,843.9 613.28,844.4 613.84,844.9 614.4,845.4 614.96,845.9 615.52,846.4 616.07,846.9 616.63,847.4 617.19,847.9 617.75,848.4 618.3,848.9 618.86,849.4 619.42,849.9 619.98,850.4 620.2,850.4 619.91,849.9 619.62,849.4 619.33,848.9 619.04,848.4 618.75,847.9 618.46,847.4 618.17,846.9 617.88,846.4 617.59,845.9 617.29,845.4 617,844.9 616.71,844.4 616.42,843.9 616.13,843.4 615.89,842.9 615.82,842.4 615.75,841.9 615.68,841.4 615.61,840.9 615.55,840.4 615.48,839.9 615.41,839.4 615.34,838.9 615.4,838.4 615.65,837.9 615.9,837.4 616.15,836.9 616.4,836.4 616.65,835.9 616.9,835.4 617.15,834.9 617.4,834.4 617.84,833.9 618.42,833.4 618.99,832.9 619.56,832.4 620.14,831.9 620.71,831.4 621.28,830.9 621.86,830.4 622.43,829.9 623,829.4 623.58,828.9 624.15,828.4 624.72,827.9 625.3,827.4 625.87,826.9 626.44,826.4 626.99,825.9 627.42,825.4 627.85,824.9 628.28,824.4 628.72,823.9 629.15,823.4 629.58,822.9 630.01,822.4 630.27,821.9 630.48,821.4 630.69,820.9 630.89,820.4 631.1,819.9 631.31,819.4 631.52,818.9 631.73,818.4 631.94,817.9 632.15,817.4 632.36,816.9 632.57,816.4 632.77,815.9 632.82,815.4 632.6,814.9 632.39,814.4 632.18,813.9 631.97,813.4 631.75,812.9 631.54,812.4 631.33,811.9 631.12,811.4 630.91,810.9 630.69,810.4 630.48,809.9 630.27,809.4 630.04,808.9 629.74,808.4 629.44,807.9 629.14,807.4 628.84,806.9 628.54,806.4 628.24,805.9 627.94,805.4 627.64,804.9 627.34,804.4 627.04,803.9 626.74,803.4 626.44,802.9 626.14,802.4 625.84,801.9 625.52,801.4 625.12,800.9 624.73,800.4 624.33,799.9 623.93,799.4 623.54,798.9 623.14,798.4 622.74,797.9 622.35,797.4 621.95,796.9 621.55,796.4 621.16,795.9 620.76,795.4 620.36,794.9 619.97,794.4 619.57,793.9 619.17,793.4 618.77,792.9 618.38,792.4 617.98,791.9 617.58,791.4 617.19,790.9 616.79,790.4 616.39,789.9 616,789.4 615.6,788.9 615.27,788.4 614.95,787.9 614.62,787.4 614.29,786.9 613.96,786.4 613.64,785.9 613.31,785.4 612.98,784.9 612.66,784.4 612.33,783.9 612,783.4 611.67,782.9 611.35,782.4 611.02,781.9 610.69,781.4 610.37,780.9 610.04,780.4 609.71,779.9 609.39,779.4 609.06,778.9 608.73,778.4 608.47,777.9 608.26,777.4 608.04,776.9 607.82,776.4 607.61,775.9 607.39,775.4 607.18,774.9 606.96,774.4 606.75,773.9 606.53,773.4 606.32,772.9 606.1,772.4 605.88,771.9 605.67,771.4 605.45,770.9 605.24,770.4 605.02,769.9 604.81,769.4 604.59,768.9 604.38,768.4 604.16,767.9 603.94,767.4 603.73,766.9 603.54,766.4 603.39,765.9 603.24,765.4 603.1,764.9" fill="#a5c9e1"/>
<polygon points="550.12,544.4 550.32,544.9 550.51,545.4 550.71,545.9 550.91,546.4 551.1,546.9 551.3,547.4 551.49,547.9 551.69,548.4 551.89,548.9 552.08,549.4 552.28,549.9 552.47,550.4 552.66,550.9 552.85,551.4 553.03,551.9 553.22,552.4 553.41,552.9 553.59,553.4 553.78,553.9 553.97,554.4 554.15,554.9 554.34,555.4 554.53,555.9 554.72,556.4 554.9,556.9 555.09,557.4 555.28,557.9 555.46,558.4 555.65,558.9 555.84,559.4 556.02,559.9 556.21,560.4 556.4,560.9 556.58,561.4 556.76,561.9 556.93,562.4 557.11,562.9 557.29,563.4 557.47,563.9 557.64,564.4 557.82,564.9 558,565.4 558.18,565.9 558.35,566.4 558.53,566.9 558.71,567.4 558.89,567.9 559.07,568.4 559.24,568.9 559.42,569.4 559.6,569.9 559.78,570.4 559.95,570.9 560.13,571.4 560.31,571.9 560.48,572.4 560.65,572.9 560.82,573.4 560.99,573.9 561.15,574.4 561.32,574.9 561.49,575.4 561.66,575.9 561.83,576.4 562,576.9 562.17,577.4 562.34,577.9 562.5,578.4 562.67,578.9 562.84,579.4 563.01,579.9 563.18,580.4 563.35,580.9 563.52,581.4 563.69,581.9 563.85,582.4 564.02,582.9 564.18,583.4 564.34,583.9 564.5,584.4 564.66,584.9 564.82,585.4 564.98,585.9 565.14,586.4 565.3,586.9 565.46,587.4 565.62,587.9 565.78,588.4 565.94,588.9 566.1,589.4 566.26,589.9 566.42,590.4 566.58,590.9 566.74,591.4 566.9,591.9 567.06,592.4 567.22,592.9 567.38,593.4 567.54,593.9 567.69,594.4 567.84,594.9 568,595.4 568.15,595.9 568.3,596.4 568.45,596.9 568.6,597.4 568.76,597.9 568.91,598.4 569.06,598.9 569.21,599.4 569.36,599.9 569.51,600.4 569.67,600.9 569.82,601.4 569.97,601.9 570.12,602.4 570.27,602.9 570.43,603.4 570.58,603.9 570.73,604.4 570.87,604.9 571.02,605.4 571.16,605.9 571.31,606.4 571.45,606.9 571.59,607.4 571.74,607.9 571.88,608.4 572.02,608.9 572.17,609.4 572.31,609.9 572.46,610.4 572.6,610.9 572.74,611.4 572.89,611.9 573.03,612.4 573.18,612.9 573.32,613.4 573.46,613.9 573.61,614.4 573.75,614.9 573.89,615.4 574.03,615.9 574.17,616.4 574.3,616.9 574.44,617.4 574.57,617.9 574.71,618.4 574.85,618.9 574.98,619.4 575.12,619.9 575.25,620.4 575.39,620.9 575.53,621.4 575.66,621.9 575.8,622.4 575.94,622.9 576.07,623.4 576.21,623.9 576.34,624.4 576.48,624.9 576.62,625.4 576.75,625.9 576.89,626.4 577.01,626.9 577.14,627.4 577.27,627.9 577.4,628.4 577.53,628.9 577.66,629.4 577.79,629.9 577.92,630.4 578.04,630.9 578.17,631.4 578.3,631.9 578.43,632.4 578.56,632.9 578.69,633.4 578.82,633.9 578.95,634.4 579.08,634.9 579.2,635.4 579.33,635.9 579.46,636.4 579.59,636.9 579.71,637.4 579.84,637.9 579.96,638.4 580.08,638.9 580.2,639.4 580.32,639.9 580.45,640.4 580.57,640.9 580.69,641.4 580.81,641.9 580.93,642.4 581.05,642.9 581.18,643.4 581.3,643.9 581.42,644.4 581.54,644.9 581.66,645.4 581.79,645.9 581.91,646.4 582.03,646.9 582.15,647.4 582.27,647.9 582.39,648.4 582.5,648.9 582.62,649.4 582.73,649.9 582.85,650.4 582.96,650.9 583.08,651.4 583.19,651.9 583.31,652.4 583.42,652.9 583.54,653.4 583.66,653.9 583.77,654.4 583.89,654.9 584,655.4 584.12,655.9 584.23,656.4 584.35,656.9 584.46,657.4 584.58,657.9 584.69,658.4 584.81,658.9 584.91,659.4 585.02,659.9 585.13,660.4 585.24,660.9 585.35,661.4 585.46,661.9 585.57,662.4 585.68,662.9 585.79,663.4 585.89,663.9 586,664.4 586.11,664.9 586.22,665.4 586.33,665.9 586.44,666.4 586.55,666.9 586.66,667.4 586.77,667.9 586.88,668.4 586.98,668.9 587.09,669.4 587.2,669.9 587.3,670.4 587.4,670.9 587.51,671.4 587.61,671.9 587.71,672.4 587.82,672.9 587.92,673.4 588.02,673.9 588.13,674.4 588.23,674.9 588.33,675.4 588.43,675.9 588.54,676.4 588.64,676.9 588.74,677.4 588.85,677.9 588.95,678.4 589.05,678.9 589.16,679.4 589.26,679.9 589.36,680.4 589.46,680.9 589.56,681.4 589.65,681.9 589.75,682.4 589.85,682.9 589.95,683.4 590.04,683.9 590.14,684.4 590.24,684.9 590.33,685.4 590.43,685.9 590.53,686.4 590.63,686.9 590.72,687.4 590.82,687.9 590.92,688.4 591.02,688.9 591.11,689.4 591.21,689.9 591.31,690.4 591.41,690.9 591.5,691.4 591.59,691.9 591.69,692.4 591.78,692.9 591.87,693.4 591.96,693.9 592.05,694.4 592.15,694.9 592.24,695.4 592.33,695.9 592.42,696.4 592.51,696.9 592.61,697.4 592.7,697.9 592.79,698.4 592.88,698.9 592.97,699.4 593.07,699.9 593.16,700.4 593.25,700.9 593.34,701.4 593.44,701.9 593.52,702.4 593.61,702.9 593.7,703.4 593.78,703.9 593.87,704.4 593.96,704.9 594.05,705.4 594.13,705.9 594.22,706.4 594.31,706.9 594.39,707.4 594.48,707.9 594.57,708.4 594.66,708.9 594.74,709.4 594.83,709.9 594.92,710.4 595,710.9 595.09,711.4 595.18,711.9 595.26,712.4 595.35,712.9 595.43,713.4 595.52,713.9 595.6,714.4 595.68,714.9 595.76,715.4 595.85,715.9 595.93,716.4 596.01,716.9 596.09,717.4 596.17,717.9 596.26,718.4 596.34,718.9 596.42,719.4 596.5,719.9 596.59,720.4 596.67,720.9 596.75,721.4 596.83,721.9 596.92,722.4 597,722.9 597.08,723.4 597.16,723.9 597.24,724.4 597.32,724.9 597.39,725.4 597.47,725.9 597.55,726.4 597.63,726.9 597.71,727.4 597.78,727.9 597.86,728.4 597.94,728.9 598.02,729.4 598.1,729.9 598.17,730.4 598.25,730.9 598.33,731.4 598.41,731.9 598.49,732.4 598.56,732.9 598.64,733.4 598.72,733.9 598.8,734.4 598.87,734.9 598.95,735.4 599.02,735.9 599.09,736.4 599.17,736.9 599.24,737.4 599.31,737.9 599.39,738.4 599.46,738.9 599.53,739.4 599.61,739.9 599.68,740.4 599.76,740.9 599.83,741.4 599.9,741.9 599.98,742.4 600.05,742.9 600.12,743.4 600.2,743.9 600.27,744.4 600.35,744.9 600.42,745.4 600.49,745.9 600.56,746.4 600.63,746.9 600.7,747.4 600.77,747.9 600.84,748.4 600.91,748.9 600.98,749.4 601.05,749.9 601.12,750.4 601.19,750.9 601.26,751.4 601.33,751.9 601.4,752.4 601.47,752.9 601.54,753.4 601.6,753.9 601.67,754.4 601.74,754.9 601.81,755.4 601.88,755.9 601.95,756.4 602.02,756.9 602.08,757.4 602.15,757.9 602.22,758.4 602.28,758.9 602.35,759.4 602.41,759.9 602.48,760.4 602.55,760.9 602.61,761.4 602.68,761.9 602.74,762.4 602.81,762.9 602.88,763.4 602.94,763.9 603.01,764.4 602.95,764.4 602.8,763.9 602.65,763.4 602.5,762.9 602.35,762.4 602.2,761.9 602.06,761.4 601.91,760.9 601.76,760.4 601.61,759.9 601.46,759.4 601.31,758.9 601.16,758.4 601.02,757.9 600.87,757.4 600.72,756.9 600.58,756.4 600.47,755.9 600.36,755.4 600.26,754.9 600.15,754.4 600.04,753.9 599.93,753.4 599.82,752.9 599.72,752.4 599.61,751.9 599.5,751.4 599.39,750.9 599.29,750.4 599.18,749.9 599.07,749.4 598.96,748.9 598.85,748.4 598.75,747.9 598.64,747.4 598.53,746.9 598.42,746.4 598.32,745.9 598.21,745.4 598.1,744.9 597.99,744.4 597.88,743.9 597.78,743.4 597.67,742.9 597.56,742.4 597.45,741.9 597.35,741.4 597.24,740.9 597.13,740.4 597.02,739.9 596.91,739.4 596.81,738.9 596.7,738.4 596.59,737.9 596.48,737.4 596.38,736.9 596.27,736.4 596.16,735.9 596.05,735.4 595.94,734.9 595.84,734.4 595.73,733.9 595.62,733.4 595.53,732.9 595.43,732.4 595.34,731.9 595.25,731.4 595.16,730.9 595.06,730.4 594.97,729.9 594.88,729.4 594.78,728.9 594.69,728.4 594.6,727.9 594.51,727.4 594.41,726.9 594.32,726.4 594.23,725.9 594.14,725.4 594.04,724.9 593.95,724.4 593.86,723.9 593.76,723.4 593.67,722.9 593.58,722.4 593.49,721.9 593.39,721.4 593.3,720.9 593.21,720.4 593.12,719.9 593.02,719.4 592.93,718.9 592.84,718.4 592.75,717.9 592.65,717.4 592.56,716.9 592.47,716.4 592.37,715.9 592.28,715.4 592.19,714.9 592.1,714.4 592,713.9 591.91,713.4 591.82,712.9 591.73,712.4 591.63,711.9 591.54,711.4 591.45,710.9 591.35,710.4 591.26,709.9 591.17,709.4 591.08,708.9 590.98,708.4 590.89,707.9 590.8,707.4 590.71,706.9 590.61,706.4 590.52,705.9 590.43,705.4 590.34,704.9 590.24,704.4 590.15,703.9 590.06,703.4 589.96,702.9 589.87,702.4 589.78,701.9 589.69,701.4 589.59,700.9 589.5,700.4 589.41,699.9 589.32,699.4 589.22,698.9 589.13,698.4 589.04,697.9 588.94,697.4 588.85,696.9 588.76,696.4 588.67,695.9 588.57,695.4 588.48,694.9 588.36,694.4 588.24,693.9 588.12,693.4 588.01,692.9 587.89,692.4 587.77,691.9 587.65,691.4 587.54,690.9 587.42,690.4 587.3,689.9 587.18,689.4 587.07,688.9 586.95,688.4 586.83,687.9 586.71,687.4 586.6,686.9 586.48,686.4 586.36,685.9 586.24,685.4 586.13,684.9 586.01,684.4 585.89,683.9 585.77,683.4 585.66,682.9 585.54,682.4 585.42,681.9 585.3,681.4 585.19,680.9 585.07,680.4 584.95,679.9 584.83,679.4 584.72,678.9 584.6,678.4 584.48,677.9 584.36,677.4 584.25,676.9 584.13,676.4 584.01,675.9 583.89,675.4 583.78,674.9 583.66,674.4 583.55,673.9 583.43,673.4 583.32,672.9 583.2,672.4 583.09,671.9 582.97,671.4 582.86,670.9 582.74,670.4 582.63,669.9 582.51,669.4 582.4,668.9 582.28,668.4 582.17,667.9 582.05,667.4 581.94,666.9 581.82,666.4 581.71,665.9 581.59,665.4 581.48,664.9 581.36,664.4 581.25,663.9 581.14,663.4 581.02,662.9 580.91,662.4 580.79,661.9 580.68,661.4 580.56,660.9 580.45,660.4 580.33,659.9 580.22,659.4 580.1,658.9 579.99,658.4 579.87,657.9 579.76,657.4 579.64,656.9 579.53,656.4 579.41,655.9 579.3,655.4 579.18,654.9 579.07,654.4 578.95,653.9 578.84,653.4 578.72,652.9 578.61,652.4 578.49,651.9 578.38,651.4 578.26,650.9 578.15,650.4 578.03,649.9 577.92,649.4 577.8,648.9 577.69,648.4 577.57,647.9 577.46,647.4 577.34,646.9 577.23,646.4 577.11,645.9 577,645.4 576.88,644.9 576.77,644.4 576.65,643.9 576.54,643.4 576.42,642.9 576.31,642.4 576.19,641.9 576.08,641.4 575.96,640.9 575.85,640.4 575.73,639.9 575.62,639.4 575.5,638.9 575.39,638.4 575.27,637.9 575.16,637.4 575.04,636.9 574.93,636.4 574.81,635.9 574.7,635.4 574.59,634.9 574.47,634.4 574.36,633.9 574.24,633.4 574.13,632.9 574.01,632.4 573.9,631.9 573.78,631.4 573.67,630.9 573.55,630.4 573.44,629.9 573.32,629.4 573.21,628.9 573.09,628.4 572.98,627.9 572.86,627.4 572.75,626.9 572.63,626.4 572.52,625.9 572.4,625.4 572.29,624.9 572.17,624.4 572.06,623.9 571.94,623.4 571.83,622.9 571.72,622.4 571.6,621.9 571.49,621.4 571.37,620.9 571.26,620.4 571.14,619.9 571.03,619.4 570.91,618.9 570.8,618.4 570.68,617.9 570.57,617.4 570.46,616.9 570.34,616.4 570.23,615.9 570.11,615.4 570,614.9 569.88,614.4 569.77,613.9 569.65,613.4 569.54,612.9 569.43,612.4 569.31,611.9 569.2,611.4 569.08,610.9 568.97,610.4 568.85,609.9 568.74,609.4 568.62,608.9 568.51,608.4 568.39,607.9 568.28,607.4 568.17,606.9 568.05,606.4 567.94,605.9 567.82,605.4 567.71,604.9 567.59,604.4 567.48,603.9 567.36,603.4 567.25,602.9 567.14,602.4 567.02,601.9 566.91,601.4 566.79,600.9 566.68,600.4 566.59,599.9 566.5,599.4 566.41,598.9 566.32,598.4 566.22,597.9 566.13,597.4 566.04,596.9 565.95,596.4 565.86,595.9 565.77,595.4 565.67,594.9 565.58,594.4 565.49,593.9 565.4,593.4 565.31,592.9 565.22,592.4 565.12,591.9 565.03,591.4 564.94,590.9 564.85,590.4 564.76,589.9 564.67,589.4 564.58,588.9 564.48,588.4 564.39,587.9 564.3,587.4 564.21,586.9 564.12,586.4 564.03,585.9 563.93,585.4 563.84,584.9 563.75,584.4 563.66,583.9 563.57,583.4 563.48,582.9 563.38,582.4 563.29,581.9 563.2,581.4 563.11,580.9 563.02,580.4 562.86,579.9 562.68,579.4 562.5,578.9 562.32,578.4 562.14,577.9 561.96,577.4 561.78,576.9 561.6,576.4 561.42,575.9 561.24,575.4 561.06,574.9 560.88,574.4 560.7,573.9 560.52,573.4 560.34,572.9 560.16,572.4 559.98,571.9 559.8,571.4 559.62,570.9 559.44,570.4 559.26,569.9 559.08,569.4 558.9,568.9 558.72,568.4 558.54,567.9 558.36,567.4 558.18,566.9 558,566.4 557.82,565.9 557.64,565.4 557.46,564.9 557.28,564.4 557.1,563.9 556.92,563.4 556.74,562.9 556.56,562.4 556.38,561.9 556.21,561.4 556.03,560.9 555.85,560.4 555.67,559.9 555.49,559.4 555.31,558.9 555.13,558.4 554.95,557.9 554.77,557.4 554.59,556.9 554.41,556.4 554.23,555.9 554.05,555.4 553.87,554.9 553.69,554.4 553.51,553.9 553.33,553.4 553.15,552.9 552.97,552.4 552.79,551.9 552.61,551.4 552.43,550.9 552.25,550.4 552.07,549.9 551.89,549.4 551.71,548.9 551.53,548.4 551.35,547.9 551.17,547.4 550.99,546.9 550.82,546.4 550.64,545.9 550.47,545.4 550.29,544.9 550.11,544.4" fill="#efa9a9"/>
<path d="M-420.2 865.4L24.36 95.4M-357.3 865.4L87.26 95.4M-294.4 865.4L150.16 95.4M-231.5 865.4L213.06 95.4M-168.6 865.4L275.96 95.4M-105.7 865.4L338.86 95.4M-42.8 865.4L401.76 95.4M20.1 865.4L464.66 95.4M83 865.4L527.56 95.4M145.9 865.4L590.46 95.4M208.8 865.4L653.36 95.4M271.7 865.4L716.26 95.4M334.6 865.4L779.16 95.4M397.5 865.4L842.06 95.4M460.4 865.4L904.96 95.4M523.3 865.4L967.86 95.4M586.2 865.4L1030.76 95.4M649.1 865.4L1093.66 95.4M712 865.4L1156.56 95.4" stroke="#b0b0b0" stroke-width="1.11" fill="none"/>
<path d="M83 95.5H712M83 322.5H712M83 455.5H712M83 549.5H712M83 622.5H712M83 682.5H712M83 733.5H712M83 776.5H712M83 815.5H712M83 849.5H712" stroke="#b0b0b0" stroke-width="1.11" fill="none"/>
<path d="M229.39,865.4 L225.01,859.3 L220.6,853.08 L216.14,846.74 L211.65,840.27 L207.11,833.68 L202.52,826.95 L197.9,820.08 L193.22,813.06 L188.5,805.89 L183.73,798.55 L178.91,791.05 L174.04,783.38 L169.11,775.51 L164.13,767.46 L159.1,759.2 L154.01,750.73 L148.86,742.03 L143.65,733.1 L138.38,723.92 L133.04,714.47 L127.64,704.74 L122.17,694.71 L116.63,684.36 L111.01,673.68 L105.33,662.64 L99.56,651.21 L93.72,639.37 L87.8,627.08 L81.79,614.32 L75.69,601.04 L69.51,587.19 L63.23,572.74 L56.87,557.62 L50.4,541.76 L43.84,525.1 L37.18,507.54 L30.41,488.99 L23.55,469.33 L16.59,448.41 L9.54,426.06 L2.39,402.07 L-4.83,376.19 L-12.11,348.08 L-19.42,317.33 L-26.73,283.4 L-33.95,245.53 L-40.98,202.71 L-47.63,153.43 L-53.58,95.4M293.17,865.4 L288.46,859.3 L283.7,853.08 L278.9,846.74 L274.05,840.27 L269.15,833.68 L264.2,826.95 L259.21,820.08 L254.16,813.06 L249.05,805.89 L243.9,798.55 L238.68,791.05 L233.41,783.38 L228.08,775.51 L222.69,767.46 L217.24,759.2 L211.72,750.73 L206.13,742.03 L200.48,733.1 L194.75,723.92 L188.95,714.47 L183.08,704.74 L177.13,694.71 L171.09,684.36 L164.97,673.68 L158.77,662.64 L152.47,651.21 L146.09,639.37 L139.61,627.08 L133.02,614.32 L126.34,601.04 L119.55,587.19 L112.64,572.74 L105.63,557.62 L98.49,541.76 L91.24,525.1 L83.85,507.54 L76.34,488.99 L68.7,469.33 L60.92,448.41 L53.01,426.06 L44.97,402.07 L36.79,376.19 L28.5,348.08 L20.12,317.33 L11.66,283.4 L3.19,245.53 L-5.2,202.71 L-13.36,153.43 L-21,95.4M356.95,865.4 L351.9,859.3 L346.8,853.08 L341.65,846.74 L336.45,840.27 L331.19,833.68 L325.88,826.95 L320.52,820.08 L315.09,813.06 L309.61,805.89 L304.07,798.55 L298.46,791.05 L292.79,783.38 L287.06,775.51 L281.25,767.46 L275.38,759.2 L269.43,750.73 L263.41,742.03 L257.31,733.1 L251.13,723.92 L244.87,714.47 L238.52,704.74 L232.08,694.71 L225.55,684.36 L218.93,673.68 L212.21,662.64 L205.39,651.21 L198.45,639.37 L191.41,627.08 L184.26,614.32 L176.98,601.04 L169.58,587.19 L162.05,572.74 L154.39,557.62 L146.58,541.76 L138.63,525.1 L130.53,507.54 L122.27,488.99 L113.85,469.33 L105.25,448.41 L96.48,426.06 L87.54,402.07 L78.42,376.19 L69.12,348.08 L59.66,317.33 L50.05,283.4 L40.33,245.53 L30.57,202.71 L20.91,153.43 L11.58,95.4M420.74,865.4 L415.35,859.3 L409.9,853.08 L404.4,846.74 L398.85,840.27 L393.23,833.68 L387.56,826.95 L381.83,820.08 L376.03,813.06 L370.17,805.89 L364.24,798.55 L358.24,791.05 L352.17,783.38 L346.03,775.51 L339.81,767.46 L333.52,759.2 L327.14,750.73 L320.68,742.03 L314.14,733.1 L307.5,723.92 L300.78,714.47 L293.96,704.74 L287.04,694.71 L280.02,684.36 L272.89,673.68 L265.65,662.64 L258.3,651.21 L250.82,639.37 L243.22,627.08 L235.49,614.32 L227.63,601.04 L219.62,587.19 L211.46,572.74 L203.15,557.62 L194.68,541.76 L186.03,525.1 L177.21,507.54 L168.2,488.99 L158.99,469.33 L149.58,448.41 L139.96,426.06 L130.11,402.07 L120.04,376.19 L109.73,348.08 L99.19,317.33 L88.43,283.4 L77.47,245.53 L66.35,202.71 L55.18,153.43 L44.16,95.4M484.52,865.4 L478.79,859.3 L473,853.08 L467.16,846.74 L461.25,840.27 L455.28,833.68 L449.24,826.95 L443.14,820.08 L436.96,813.06 L430.72,805.89 L424.41,798.55 L418.02,791.05 L411.55,783.38 L405,775.51 L398.37,767.46 L391.65,759.2 L384.85,750.73 L377.96,742.03 L370.97,733.1 L363.88,723.92 L356.69,714.47 L349.4,704.74 L342,694.71 L334.48,684.36 L326.85,673.68 L319.09,662.64 L311.21,651.21 L303.19,639.37 L295.03,627.08 L286.73,614.32 L278.27,601.04 L269.66,587.19 L260.87,572.74 L251.91,557.62 L242.77,541.76 L233.43,525.1 L223.89,507.54 L214.13,488.99 L204.14,469.33 L193.91,448.41 L183.43,426.06 L172.69,402.07 L161.66,376.19 L150.35,348.08 L138.73,317.33 L126.82,283.4 L114.61,245.53 L102.13,202.71 L89.45,153.43 L76.74,95.4M548.3,865.4 L542.23,859.3 L536.1,853.08 L529.91,846.74 L523.65,840.27 L517.32,833.68 L510.92,826.95 L504.45,820.08 L497.9,813.06 L491.28,805.89 L484.58,798.55 L477.79,791.05 L470.93,783.38 L463.97,775.51 L456.93,767.46 L449.79,759.2 L442.56,750.73 L435.23,742.03 L427.8,733.1 L420.26,723.92 L412.61,714.47 L404.84,704.74 L396.95,694.71 L388.95,684.36 L380.81,673.68 L372.53,662.64 L364.12,651.21 L355.56,639.37 L346.84,627.08 L337.96,614.32 L328.92,601.04 L319.69,587.19 L310.28,572.74 L300.67,557.62 L290.86,541.76 L280.83,525.1 L270.56,507.54 L260.05,488.99 L249.29,469.33 L238.24,448.41 L226.91,426.06 L215.26,402.07 L203.29,376.19 L190.96,348.08 L178.27,317.33 L165.2,283.4 L151.74,245.53 L137.9,202.71 L123.72,153.43 L109.32,95.4M612.08,865.4 L605.68,859.3 L599.2,853.08 L592.66,846.74 L586.05,840.27 L579.36,833.68 L572.6,826.95 L565.76,820.08 L558.84,813.06 L551.83,805.89 L544.74,798.55 L537.57,791.05 L530.3,783.38 L522.94,775.51 L515.49,767.46 L507.93,759.2 L500.27,750.73 L492.5,742.03 L484.63,733.1 L476.63,723.92 L468.52,714.47 L460.28,704.74 L451.91,694.71 L443.41,684.36 L434.76,673.68 L425.97,662.64 L417.03,651.21 L407.92,639.37 L398.65,627.08 L389.2,614.32 L379.56,601.04 L369.73,587.19 L359.69,572.74 L349.44,557.62 L338.95,541.76 L328.22,525.1 L317.24,507.54 L305.98,488.99 L294.43,469.33 L282.57,448.41 L270.38,426.06 L257.83,402.07 L244.91,376.19 L231.58,348.08 L217.81,317.33 L203.59,283.4 L188.88,245.53 L173.68,202.71 L157.99,153.43 L141.9,95.4M675.87,865.4 L669.12,859.3 L662.3,853.08 L655.41,846.74 L648.45,840.27 L641.4,833.68 L634.27,826.95 L627.07,820.08 L619.77,813.06 L612.39,805.89 L604.91,798.55 L597.35,791.05 L589.68,783.38 L581.92,775.51 L574.05,767.46 L566.07,759.2 L557.98,750.73 L549.78,742.03 L541.46,733.1 L533.01,723.92 L524.43,714.47 L515.72,704.74 L506.87,694.71 L497.87,684.36 L488.72,673.68 L479.41,662.64 L469.94,651.21 L460.29,639.37 L450.46,627.08 L440.43,614.32 L430.21,601.04 L419.77,587.19 L409.1,572.74 L398.2,557.62 L387.04,541.76 L375.62,525.1 L363.92,507.54 L351.91,488.99 L339.58,469.33 L326.9,448.41 L313.85,426.06 L300.41,402.07 L286.53,376.19 L272.19,348.08 L257.35,317.33 L241.98,283.4 L226.02,245.53 L209.46,202.71 L192.26,153.43 L174.48,95.4M739.65,865.4 L732.57,859.3 L725.41,853.08 L718.17,846.74 L710.85,840.27 L703.44,833.68 L695.95,826.95 L688.38,820.08 L680.71,813.06 L672.94,805.89 L665.08,798.55 L657.12,791.05 L649.06,783.38 L640.89,775.51 L632.61,767.46 L624.21,759.2 L615.69,750.73 L607.05,742.03 L598.29,733.1 L589.38,723.92 L580.34,714.47 L571.16,704.74 L561.83,694.71 L552.34,684.36 L542.68,673.68 L532.86,662.64 L522.85,651.21 L512.66,639.37 L502.27,627.08 L491.67,614.32 L480.85,601.04 L469.8,587.19 L458.51,572.74 L446.96,557.62 L435.14,541.76 L423.02,525.1 L410.59,507.54 L397.84,488.99 L384.73,469.33 L371.23,448.41 L357.33,426.06 L342.98,402.07 L328.15,376.19 L312.81,348.08 L296.89,317.33 L280.36,283.4 L263.16,245.53 L245.23,202.71 L226.53,153.43 L207.05,95.4M803.43,865.4 L796.01,859.3 L788.51,853.08 L780.92,846.74 L773.25,840.27 L765.48,833.68 L757.63,826.95 L749.69,820.08 L741.64,813.06 L733.5,805.89 L725.25,798.55 L716.9,791.05 L708.44,783.38 L699.86,775.51 L691.16,767.46 L682.35,759.2 L673.4,750.73 L664.33,742.03 L655.11,733.1 L645.76,723.92 L636.26,714.47 L626.6,704.74 L616.78,694.71 L606.8,684.36 L596.64,673.68 L586.3,662.64 L575.76,651.21 L565.02,639.37 L554.07,627.08 L542.9,614.32 L531.49,601.04 L519.84,587.19 L507.92,572.74 L495.72,557.62 L483.23,541.76 L470.42,525.1 L457.27,507.54 L443.77,488.99 L429.87,469.33 L415.56,448.41 L400.8,426.06 L385.56,402.07 L369.78,376.19 L353.42,348.08 L336.43,317.33 L318.75,283.4 L300.3,245.53 L281.01,202.71 L260.81,153.43 L239.63,95.4" stroke="#ff0000" stroke-opacity="0.5" stroke-width="1.39" stroke-dasharray="5.14 2.22" fill="none"/>
<path d="M228.82,865.4 L224.68,859.3 L220.48,853.08 L216.22,846.74 L211.91,840.27 L207.53,833.68 L203.1,826.95 L198.6,820.08 L194.05,813.06 L189.44,805.89 L184.76,798.55 L180.03,791.05 L175.23,783.38 L170.37,775.51 L165.44,767.46 L160.46,759.2 L155.4,750.73 L150.29,742.03 L145.1,733.1 L139.85,723.92 L134.53,714.47 L129.14,704.74 L123.67,694.71 L118.13,684.36 L112.52,673.68 L106.83,662.64 L101.06,651.21 L95.21,639.37 L89.27,627.08 L83.25,614.32 L77.14,601.04 L70.95,587.19 L64.65,572.74 L58.27,557.62 L51.79,541.76 L45.2,525.1 L38.52,507.54 L31.74,488.99 L24.85,469.33 L17.87,448.41 L10.79,426.06 L3.62,402.07 L-3.63,376.19 L-10.94,348.08 L-18.28,317.33 L-25.62,283.4 L-32.88,245.53 L-39.95,202.71 L-46.64,153.43 L-52.64,95.4M291.8,865.4 L287.65,859.3 L283.41,853.08 L279.1,846.74 L274.7,840.27 L270.21,833.68 L265.65,826.95 L261,820.08 L256.27,813.06 L251.46,805.89 L246.56,798.55 L241.58,791.05 L236.52,783.38 L231.37,775.51 L226.14,767.46 L220.82,759.2 L215.42,750.73 L209.93,742.03 L204.36,733.1 L198.7,723.92 L192.95,714.47 L187.11,704.74 L181.19,694.71 L175.17,684.36 L169.06,673.68 L162.85,662.64 L156.54,651.21 L150.14,639.37 L143.63,627.08 L137.02,614.32 L130.3,601.04 L123.47,587.19 L116.53,572.74 L109.47,557.62 L102.28,541.76 L94.97,525.1 L87.54,507.54 L79.97,488.99 L72.26,469.33 L64.42,448.41 L56.44,426.06 L48.33,402.07 L40.08,376.19 L31.71,348.08 L23.24,317.33 L14.69,283.4 L6.12,245.53 L-2.38,202.71 L-10.66,153.43 L-18.43,95.4M354.07,865.4 L350.18,859.3 L346.19,853.08 L342.08,846.74 L337.87,840.27 L333.55,833.68 L329.11,826.95 L324.55,820.08 L319.88,813.06 L315.09,805.89 L310.19,798.55 L305.17,791.05 L300.03,783.38 L294.77,775.51 L289.39,767.46 L283.89,759.2 L278.27,750.73 L272.53,742.03 L266.68,733.1 L260.7,723.92 L254.6,714.47 L248.39,704.74 L242.05,694.71 L235.59,684.36 L229.01,673.68 L222.31,662.64 L215.48,651.21 L208.53,639.37 L201.44,627.08 L194.23,614.32 L186.88,601.04 L179.4,587.19 L171.77,572.74 L164,557.62 L156.08,541.76 L148,525.1 L139.76,507.54 L131.36,488.99 L122.78,469.33 L114.03,448.41 L105.09,426.06 L95.97,402.07 L86.66,376.19 L77.16,348.08 L67.49,317.33 L57.65,283.4 L47.68,245.53 L37.66,202.71 L27.7,153.43 L18.03,95.4M415.44,865.4 L412.15,859.3 L408.75,853.08 L405.22,846.74 L401.57,840.27 L397.78,833.68 L393.85,826.95 L389.78,820.08 L385.57,813.06 L381.2,805.89 L376.69,798.55 L372.01,791.05 L367.17,783.38 L362.16,775.51 L356.99,767.46 L351.65,759.2 L346.13,750.73 L340.44,742.03 L334.58,733.1 L328.54,723.92 L322.33,714.47 L315.94,704.74 L309.37,694.71 L302.62,684.36 L295.7,673.68 L288.6,662.64 L281.33,651.21 L273.88,639.37 L266.26,627.08 L258.45,614.32 L250.47,601.04 L242.31,587.19 L233.96,572.74 L225.43,557.62 L216.71,541.76 L207.79,525.1 L198.66,507.54 L189.33,488.99 L179.78,469.33 L170,448.41 L159.99,426.06 L149.74,402.07 L139.23,376.19 L128.46,348.08 L117.42,317.33 L106.13,283.4 L94.59,245.53 L82.84,202.71 L70.98,153.43 L59.18,95.4M476.09,865.4 L473.67,859.3 L471.14,853.08 L468.5,846.74 L465.74,840.27 L462.87,833.68 L459.86,826.95 L456.71,820.08 L453.42,813.06 L449.97,805.89 L446.37,798.55 L442.59,791.05 L438.63,783.38 L434.48,775.51 L430.14,767.46 L425.58,759.2 L420.81,750.73 L415.81,742.03 L410.58,733.1 L405.1,723.92 L399.37,714.47 L393.38,704.74 L387.13,694.71 L380.61,684.36 L373.81,673.68 L366.74,662.64 L359.39,651.21 L351.76,639.37 L343.85,627.08 L335.67,614.32 L327.2,601.04 L318.46,587.19 L309.45,572.74 L300.15,557.62 L290.59,541.76 L280.75,525.1 L270.63,507.54 L260.22,488.99 L249.53,469.33 L238.53,448.41 L227.22,426.06 L215.59,402.07 L203.63,376.19 L191.3,348.08 L178.61,317.33 L165.53,283.4 L152.06,245.53 L138.21,202.71 L124.01,153.43 L109.6,95.4M506.3,865.4 L504.34,859.3 L502.3,853.08 L500.16,846.74 L497.93,840.27 L495.59,833.68 L493.13,826.95 L490.56,820.08 L487.85,813.06 L485.01,805.89 L482.03,798.55 L478.89,791.05 L475.58,783.38 L472.09,775.51 L468.41,767.46 L464.54,759.2 L460.44,750.73 L456.12,742.03 L451.55,733.1 L446.73,723.92 L441.63,714.47 L436.25,704.74 L430.57,694.71 L424.58,684.36 L418.26,673.68 L411.6,662.64 L404.6,651.21 L397.25,639.37 L389.53,627.08 L381.45,614.32 L373,601.04 L364.19,587.19 L355.02,572.74 L345.48,557.62 L335.58,541.76 L325.32,525.1 L314.7,507.54 L303.73,488.99 L292.4,469.33 L280.71,448.41 L268.64,426.06 L256.19,402.07 L243.34,376.19 L230.07,348.08 L216.35,317.33 L202.18,283.4 L187.52,245.53 L172.37,202.71 L156.74,153.43 L140.7,95.4M536.53,865.4 L535.03,859.3 L533.46,853.08 L531.83,846.74 L530.11,840.27 L528.31,833.68 L526.42,826.95 L524.44,820.08 L522.35,813.06 L520.15,805.89 L517.83,798.55 L515.38,791.05 L512.8,783.38 L510.06,775.51 L507.16,767.46 L504.09,759.2 L500.82,750.73 L497.36,742.03 L493.67,733.1 L489.74,723.92 L485.55,714.47 L481.08,704.74 L476.32,694.71 L471.23,684.36 L465.79,673.68 L459.99,662.64 L453.79,651.21 L447.18,639.37 L440.13,627.08 L432.63,614.32 L424.66,601.04 L416.2,587.19 L407.25,572.74 L397.8,557.62 L387.85,541.76 L377.4,525.1 L366.45,507.54 L355.02,488.99 L343.1,469.33 L330.71,448.41 L317.83,426.06 L304.47,402.07 L290.61,376.19 L276.23,348.08 L261.32,317.33 L245.85,283.4 L229.78,245.53 L213.08,202.71 L195.73,153.43 L177.78,95.4M566.83,865.4 L565.76,859.3 L564.64,853.08 L563.48,846.74 L562.25,840.27 L560.97,833.68 L559.62,826.95 L558.2,820.08 L556.7,813.06 L555.12,805.89 L553.46,798.55 L551.7,791.05 L549.83,783.38 L547.85,775.51 L545.75,767.46 L543.52,759.2 L541.14,750.73 L538.6,742.03 L535.88,733.1 L532.97,723.92 L529.85,714.47 L526.5,704.74 L522.89,694.71 L519,684.36 L514.81,673.68 L510.27,662.64 L505.36,651.21 L500.04,639.37 L494.27,627.08 L488.01,614.32 L481.22,601.04 L473.87,587.19 L465.9,572.74 L457.28,557.62 L447.99,541.76 L438,525.1 L427.29,507.54 L415.86,488.99 L403.72,469.33 L390.86,448.41 L377.3,426.06 L363.06,402.07 L348.13,376.19 L332.52,348.08 L316.22,317.33 L299.2,283.4 L281.42,245.53 L262.84,202.71 L243.41,153.43 L223.1,95.4M597.25,865.4 L596.57,859.3 L595.85,853.08 L595.11,846.74 L594.32,840.27 L593.5,833.68 L592.63,826.95 L591.72,820.08 L590.76,813.06 L589.74,805.89 L588.67,798.55 L587.53,791.05 L586.33,783.38 L585.05,775.51 L583.69,767.46 L582.24,759.2 L580.68,750.73 L579.02,742.03 L577.24,733.1 L575.33,723.92 L573.27,714.47 L571.05,704.74 L568.64,694.71 L566.03,684.36 L563.2,673.68 L560.11,662.64 L556.73,651.21 L553.03,639.37 L548.97,627.08 L544.49,614.32 L539.55,601.04 L534.08,587.19 L528.03,572.74 L521.3,557.62 L513.84,541.76 L505.55,525.1 L496.36,507.54 L486.18,488.99 L474.97,469.33 L462.66,448.41 L449.24,426.06 L434.71,402.07 L419.09,376.19 L402.39,348.08 L384.65,317.33 L365.87,283.4 L346.06,245.53 L325.18,202.71 L303.15,153.43 L279.89,95.4M627.81,865.4 L627.46,859.3 L627.1,853.08 L626.71,846.74 L626.3,840.27 L625.88,833.68 L625.43,826.95 L624.95,820.08 L624.45,813.06 L623.91,805.89 L623.35,798.55 L622.74,791.05 L622.1,783.38 L621.42,775.51 L620.69,767.46 L619.91,759.2 L619.07,750.73 L618.16,742.03 L617.19,733.1 L616.14,723.92 L615.01,714.47 L613.77,704.74 L612.43,694.71 L610.97,684.36 L609.37,673.68 L607.61,662.64 L605.67,651.21 L603.54,639.37 L601.17,627.08 L598.53,614.32 L595.59,601.04 L592.28,587.19 L588.56,572.74 L584.36,557.62 L579.57,541.76 L574.12,525.1 L567.87,507.54 L560.69,488.99 L552.41,469.33 L542.86,448.41 L531.86,426.06 L519.23,402.07 L504.82,376.19 L488.54,348.08 L470.37,317.33 L450.35,283.4 L428.56,245.53 L405.05,202.71 L379.84,153.43 L352.87,95.4M658.52,865.4 L658.45,859.3 L658.37,853.08 L658.29,846.74 L658.2,840.27 L658.1,833.68 L657.99,826.95 L657.87,820.08 L657.74,813.06 L657.6,805.89 L657.45,798.55 L657.28,791.05 L657.1,783.38 L656.9,775.51 L656.68,767.46 L656.43,759.2 L656.17,750.73 L655.87,742.03 L655.55,733.1 L655.19,723.92 L654.79,714.47 L654.34,704.74 L653.85,694.71 L653.3,684.36 L652.68,673.68 L651.99,662.64 L651.22,651.21 L650.34,639.37 L649.35,627.08 L648.23,614.32 L646.95,601.04 L645.48,587.19 L643.8,572.74 L641.86,557.62 L639.61,541.76 L636.98,525.1 L633.89,507.54 L630.24,488.99 L625.89,469.33 L620.67,448.41 L614.35,426.06 L606.65,402.07 L597.2,376.19 L585.56,348.08 L571.25,317.33 L553.77,283.4 L532.8,245.53 L508.21,202.71 L480.17,153.43 L448.9,95.4M689.38,865.4 L689.53,859.3 L689.68,853.08 L689.84,846.74 L690,840.27 L690.16,833.68 L690.33,826.95 L690.5,820.08 L690.66,813.06 L690.84,805.89 L691.01,798.55 L691.18,791.05 L691.36,783.38 L691.53,775.51 L691.71,767.46 L691.88,759.2 L692.06,750.73 L692.23,742.03 L692.4,733.1 L692.56,723.92 L692.72,714.47 L692.87,704.74 L693.01,694.71 L693.14,684.36 L693.26,673.68 L693.35,662.64 L693.43,651.21 L693.48,639.37 L693.49,627.08 L693.47,614.32 L693.39,601.04 L693.26,587.19 L693.05,572.74 L692.76,557.62 L692.35,541.76 L691.8,525.1 L691.08,507.54 L690.13,488.99 L688.9,469.33 L687.31,448.41 L685.23,426.06 L682.52,402.07 L678.96,376.19 L674.22,348.08 L667.82,317.33 L659.08,283.4 L646.97,245.53 L630.06,202.71 L606.67,153.43 L575.49,95.4M720.36,865.4 L720.69,859.3 L721.03,853.08 L721.37,846.74 L721.73,840.27 L722.09,833.68 L722.47,826.95 L722.86,820.08 L723.26,813.06 L723.67,805.89 L724.09,798.55 L724.52,791.05 L724.97,783.38 L725.43,775.51 L725.9,767.46 L726.39,759.2 L726.89,750.73 L727.41,742.03 L727.94,733.1 L728.49,723.92 L729.06,714.47 L729.64,704.74 L730.24,694.71 L730.86,684.36 L731.5,673.68 L732.15,662.64 L732.83,651.21 L733.52,639.37 L734.24,627.08 L734.97,614.32 L735.72,601.04 L736.49,587.19 L737.27,572.74 L738.06,557.62 L738.86,541.76 L739.67,525.1 L740.47,507.54 L741.26,488.99 L742.02,469.33 L742.72,448.41 L743.35,426.06 L743.84,402.07 L744.14,376.19 L744.14,348.08 L743.68,317.33 L742.5,283.4 L740.17,245.53 L735.92,202.71 L728.32,153.43 L714.57,95.4M751.45,865.4 L751.92,859.3 L752.39,853.08 L752.88,846.74 L753.39,840.27 L753.91,833.68 L754.44,826.95 L754.99,820.08 L755.56,813.06 L756.15,805.89 L756.76,798.55 L757.38,791.05 L758.03,783.38 L758.7,775.51 L759.39,767.46 L760.11,759.2 L760.85,750.73 L761.62,742.03 L762.41,733.1 L763.24,723.92 L764.09,714.47 L764.98,704.74 L765.91,694.71 L766.87,684.36 L767.87,673.68 L768.91,662.64 L770,651.21 L771.14,639.37 L772.32,627.08 L773.56,614.32 L774.86,601.04 L776.22,587.19 L777.65,572.74 L779.15,557.62 L780.73,541.76 L782.39,525.1 L784.14,507.54 L785.99,488.99 L787.95,469.33 L790.02,448.41 L792.21,426.06 L794.53,402.07 L796.99,376.19 L799.59,348.08 L802.32,317.33 L805.16,283.4 L808.07,245.53 L810.92,202.71 L813.44,153.43 L815,95.4M782.65,865.4 L783.21,859.3 L783.78,853.08 L784.38,846.74 L784.99,840.27 L785.62,833.68 L786.27,826.95 L786.94,820.08 L787.63,813.06 L788.35,805.89 L789.09,798.55 L789.85,791.05 L790.64,783.38 L791.46,775.51 L792.3,767.46 L793.18,759.2 L794.09,750.73 L795.03,742.03 L796.01,733.1 L797.03,723.92 L798.09,714.47 L799.19,704.74 L800.34,694.71 L801.53,684.36 L802.78,673.68 L804.08,662.64 L805.45,651.21 L806.88,639.37 L808.38,627.08 L809.96,614.32 L811.61,601.04 L813.36,587.19 L815.2,572.74 L817.16,557.62 L819.22,541.76 L821.42,525.1 L823.76,507.54 L826.26,488.99 L828.94,469.33 L831.82,448.41 L834.92,426.06 L838.29,402.07 L841.95,376.19 L845.96,348.08 L850.38,317.33 L855.27,283.4 L860.74,245.53 L866.91,202.71 L873.94,153.43 L882.01,95.4" stroke="#0000ff" stroke-opacity="0.5" stroke-width="1.39" stroke-dasharray="5.14 2.22" fill="none"/>
<polyline points="427.6,95.4 413.5,113.8 390.1,160.5 395.3,182.7 404.8,203.9 411.8,229 415.9,240 421.8,256.1 431.4,277.3 435.9,301.5 445.9,324.6 457,348.8 468.1,371 480.2,390 494.7,417.2 503.8,440.4 512.8,457.5 529.6,488.1 539,512.9 551.1,547.2 563,580.3 566.7,600.5 572.7,626.7 578.7,652.8 583.8,675 588.5,695 595.6,733.3 600.6,756.5 603.6,766.6 608.6,778.2 615.6,788.9 625.6,801.5 630.1,809 632.9,815.6 630.1,822.3 626.9,826 617.5,834.2 615.3,838.6 615.9,843 620.2,850.4" stroke="#ff0000" stroke-width="2.08" fill="none" stroke-linejoin="round" stroke-linecap="butt"/>
<polyline points="399.1,95.4 362.5,160.5 368.5,178.7 375,207.5 370.5,217 362.5,232.1 347.2,253.7 341.2,277.3 378,300.5 376.8,324.6 389.5,346.4 409.3,371 416.7,394.2 443.3,418.2 483.6,440.8 493.7,464.6 494.1,488.1 514.5,510.9 525.5,534.1 528,558.1 542.5,581.3 562.6,604.9 570.7,628.7 576.3,651.8 577.1,676 584.8,700 601.2,766.6 601.3,778.2 591.6,793 572.7,805.6 550.1,815.7 562.4,824.5 592.9,832.6 603.6,836.8 609.3,841.2 612,844.3 612,850.6" stroke="#008000" stroke-width="2.08" fill="none" stroke-linejoin="round" stroke-linecap="butt"/>
<polyline points="316.15,95.4 320.62,106.23 325.19,117.06 329.86,127.9 334.63,138.73 339.5,149.56 344.48,160.39 349.56,171.22 354.75,182.06 360.04,192.89 365.43,203.72 370.92,214.55 376.52,225.38 382.21,236.21 388.01,247.05 393.9,257.88 399.88,268.71 405.95,279.54 412.11,290.37 418.34,301.21 424.64,312.04 431,322.87 437.42,333.7 443.87,344.53 450.35,355.37 456.84,366.2 463.33,377.03 469.79,387.86 476.22,398.69 482.58,409.52 488.87,420.36 495.06,431.19 501.13,442.02 507.07,452.85 512.85,463.68 518.48,474.52 523.92,485.35 529.18,496.18 534.24,507.01 539.1,517.84 543.75,528.68 548.2,539.51 552.45,550.34 556.5,561.17 560.35,572 564,582.83 567.47,593.67 570.76,604.5 573.87,615.33 576.82,626.16 579.61,636.99 582.26,647.83 584.75,658.66 587.11,669.49 589.35,680.32 591.46,691.15 593.45,701.99 595.34,712.82 597.12,723.65 598.81,734.48 600.41,745.31 601.92,756.14 603.35,766.98 604.71,777.81 605.99,788.64 607.21,799.47 608.37,810.3 609.46,821.14 610.51,831.97 611.5,842.8 620.2,850.6" stroke="#000000" stroke-width="2.78" fill="none" stroke-linejoin="round" stroke-linecap="butt"/>
</g>
<path d="M83.5 95.5V865.5M712.5 95.5V865.5M83.5 95.5H712.5M83.5 865.5H712.5" fill="none" stroke="#000" stroke-width="1.11" stroke-linecap="square"/>
<path d="M83 95.5h-4.9M83 322.5h-4.9M83 455.5h-4.9M83 549.5h-4.9M83 622.5h-4.9M83 682.5h-4.9M83 733.5h-4.9M83 776.5h-4.9M83 815.5h-4.9M83 849.5h-4.9M83.5 865.4v5.4M146.5 865.4v5.4M209.5 865.4v5.4M272.5 865.4v5.4M335.5 865.4v5.4M398.5 865.4v5.4M460.5 865.4v5.4M523.5 865.4v5.4M586.5 865.4v5.4M649.5 865.4v5.4M712.5 865.4v5.4" stroke="#000" stroke-width="1.11" fill="none"/>
<text x="73.55" y="101" font-size="13.89" text-anchor="end" textLength="25.7">100</text>
<text x="73.55" y="328" font-size="13.89" text-anchor="end" textLength="25.7">200</text>
<text x="72.75" y="461" font-size="13.89" text-anchor="end" textLength="25.7">300</text>
<text x="73.55" y="555" font-size="13.89" text-anchor="end" textLength="25.7">400</text>
<text x="73.55" y="628" font-size="13.89" text-anchor="end" textLength="25.7">500</text>
<text x="73.55" y="688" font-size="13.89" text-anchor="end" textLength="25.7">600</text>
<text x="73.55" y="739" font-size="13.89" text-anchor="end" textLength="25.7">700</text>
<text x="73.55" y="782" font-size="13.89" text-anchor="end" textLength="25.7">800</text>
<text x="73.55" y="821" font-size="13.89" text-anchor="end" textLength="25.7">900</text>
<text x="73.55" y="855" font-size="13.89" text-anchor="end" textLength="34.3">1000</text>
<text x="83.35" y="886.6" font-size="13.89" text-anchor="middle" textLength="27.8">−60</text>
<text x="146.35" y="886.6" font-size="13.89" text-anchor="middle" textLength="27.8">−50</text>
<text x="209.2" y="886.6" font-size="13.89" text-anchor="middle" textLength="27.8">−40</text>
<text x="272.1" y="886.6" font-size="13.89" text-anchor="middle" textLength="27.8">−30</text>
<text x="335" y="886.6" font-size="13.89" text-anchor="middle" textLength="27.8">−20</text>
<text x="397.9" y="886.6" font-size="13.89" text-anchor="middle" textLength="27.8">−10</text>
<text x="461.3" y="886.6" font-size="13.89" text-anchor="middle" textLength="8.83">0</text>
<text x="523.4" y="886.6" font-size="13.89" text-anchor="middle" textLength="16.9">10</text>
<text x="585.9" y="886.6" font-size="13.89" text-anchor="middle" textLength="16.9">20</text>
<text x="648.5" y="886.6" font-size="13.89" text-anchor="middle" textLength="16.9">30</text>
<text x="711.4" y="886.6" font-size="13.89" text-anchor="middle" textLength="16.9">40</text>
<text x="335.1" y="907.8" font-size="13.89" textLength="100.2">Temperature (</text>
<text x="437.67" y="905.2" font-size="9.72">°</text>
<text x="444.7" y="907.8" font-size="13.89">C</text>
<text x="455.5" y="907.8" font-size="13.89">)</text>
<text transform="translate(29.3 481.9) rotate(-90)" font-size="13.89" text-anchor="middle">Pressure (hPa)</text>
<text x="9.9" y="20.5" font-size="13.89" font-weight="bold" textLength="135.3" xml:space="preserve">SkewTLogP Praia</text>
<text x="9.9" y="36.8" font-size="13.89" font-weight="bold" textLength="182.0" xml:space="preserve">Lat: 14.94   Lon: -23.48</text>
<text x="9.9" y="52.8" font-size="13.89" font-weight="bold" textLength="631.4" xml:space="preserve">Simulation start time: 2024-09-09_00:00:00, Valid time: 2024-09-10T07:00:00.00</text>
<text x="9.9" y="69.8" font-size="13.89" font-weight="bold" textLength="554.7" xml:space="preserve">CAPE=78 j/kg, CIN=-134 j/kg, LCL=979 hPa, LFC=788 hPa, EQ=408 hPa</text>
<text x="11.0" y="87.0" font-size="13.89" font-weight="bold" xml:space="preserve">LFT IDX=-1<tspan font-size="9.72" font-weight="normal" dy="-2.6" dx="3">°</tspan><tspan dy="2.6" dx="2.7">C</tspan>, K IDX=37<tspan font-size="9.72" font-weight="normal" dy="-2.6" dx="3">°</tspan><tspan dy="2.6" dx="2.7">C</tspan>, TOTAL TOTS=42<tspan font-size="9.72" font-weight="normal" dy="-2.6" dx="3">°</tspan><tspan dy="2.6" dx="2.7">C</tspan>, SHWTR_IDX=1<tspan font-size="9.72" font-weight="normal" dy="-2.6" dx="3">°</tspan><tspan dy="2.6" dx="2.7">C</tspan></text>
<path d="M712.5 137L745.25 130.45L751.97 142.73M712.5 184.1L745.9 184.1L750.07 197.46M741.73 184.1L743.81 190.78M712.5 230.5L743.69 218.54L752.37 229.53M739.79 220.04L744.13 225.53M712.5 277.1L743.44 264.52L752.34 275.32M739.57 266.09L744.02 271.49M712.5 324.3L741.75 340.42L738.96 354.14M712.5 370.9L740.38 389.29L736.51 402.74M712.5 417.9L741.66 434.19L738.79 447.89M712.5 464.6L735.61 488.72L728.85 500.97M712.5 511.8L733.1 538.09M729.24 533.16L725.27 538.92M712.5 558.4L744.74 567.14M738.69 565.5L738.96 572.49M712.5 604.9L745.21 611.64L746.6 625.57M712.5 651.9L745.53 656.89L747.66 670.72M741.4 656.27L742.46 663.18M712.5 698.9L745.9 699.3L749.91 712.71M741.72 699.25L743.73 705.96M712.5 742.8L745.76 739.79L751.13 752.71M741.61 740.16L744.29 746.63M712.5 778.5L745.75 775.33L751.17 788.23M712.5 805.4L745.35 799.39L751.87 811.78M712.5 824.2L741.97 808.48L751.94 818.31M712.5 836.7L726.83 806.53L740.69 808.49M712.5 844.1L717.61 811.09L731.45 809.01M712.5 849.2L719.05 816.45M717.82 822.59L724.78 821.85" stroke="#000" stroke-width="1.75" fill="none" stroke-linejoin="miter" stroke-linecap="square"/>
<rect x="91.0" y="704.0" width="154.0" height="154.0" fill="#fff"/>
<g clip-path="url(#hd)" fill="none">
<path d="M193.67 781.0A25.67 25.67 0 1 0 142.33 781.0A25.67 25.67 0 1 0 193.67 781.0" stroke="#808080" stroke-width="1.39" stroke-dasharray="5.14 2.22"/>
<path d="M219.33 781.0A51.33 51.33 0 1 0 116.67 781.0A51.33 51.33 0 1 0 219.33 781.0" stroke="#808080" stroke-width="1.39" stroke-dasharray="5.14 2.22"/>
<path d="M245 781.0A77 77 0 1 0 91 781.0A77 77 0 1 0 245 781.0" stroke="#808080" stroke-width="1.39" stroke-dasharray="5.14 2.22"/>
<path d="M270.67 781.0A102.67 102.67 0 1 0 65.33 781.0A102.67 102.67 0 1 0 270.67 781.0" stroke="#808080" stroke-width="1.39" stroke-dasharray="5.14 2.22"/>
<path d="M91.0 781.0H245.0M168.0 858.0V704.0" stroke="#808080" stroke-width="2.08" stroke-dasharray="7.71 3.33"/>
<path d="M165 799.1L165 802.1" stroke="#440154" stroke-width="3.9" stroke-linecap="butt"/>
<path d="M165 802.1L162.3 803.3" stroke="#440154" stroke-width="3.9" stroke-linecap="butt"/>
<circle cx="165" cy="802.1" r="1.95" fill="#440154" stroke="none"/>
<path d="M162.3 803.3L159.3 802.9" stroke="#440154" stroke-width="3.9" stroke-linecap="butt"/>
<circle cx="162.3" cy="803.3" r="1.95" fill="#440154" stroke="none"/>
<path d="M159.3 802.9L156.3 800.6" stroke="#440154" stroke-width="3.9" stroke-linecap="butt"/>
<circle cx="159.3" cy="802.9" r="1.95" fill="#440154" stroke="none"/>
<path d="M156.3 800.6L154 797.6" stroke="#450558" stroke-width="3.9" stroke-linecap="butt"/>
<circle cx="156.3" cy="800.6" r="1.95" fill="#450558" stroke="none"/>
<path d="M154 797.6L152.1 793.8" stroke="#450a5c" stroke-width="3.9" stroke-linecap="butt"/>
<circle cx="154" cy="797.6" r="1.95" fill="#450a5c" stroke="none"/>
<path d="M152.1 793.8L150.2 790.1" stroke="#460f62" stroke-width="3.9" stroke-linecap="butt"/>
<circle cx="152.1" cy="793.8" r="1.95" fill="#460f62" stroke="none"/>
<path d="M150.2 790.1L148 787.4" stroke="#471567" stroke-width="3.9" stroke-linecap="butt"/>
<circle cx="150.2" cy="790.1" r="1.95" fill="#471567" stroke="none"/>
<path d="M148 787.4L144.9 785.5" stroke="#481a6c" stroke-width="3.9" stroke-linecap="butt"/>
<circle cx="148" cy="787.4" r="1.95" fill="#481a6c" stroke="none"/>
<path d="M144.9 785.5L141.9 784.6" stroke="#481d6f" stroke-width="3.9" stroke-linecap="butt"/>
<circle cx="144.9" cy="785.5" r="1.95" fill="#481d6f" stroke="none"/>
<path d="M141.9 784.6L137.4 783.3" stroke="#482072" stroke-width="3.9" stroke-linecap="butt"/>
<circle cx="141.9" cy="784.6" r="1.95" fill="#482072" stroke="none"/>
<path d="M137.4 783.3L130.5 784.7" stroke="#472d7b" stroke-width="3.9" stroke-linecap="butt"/>
<circle cx="137.4" cy="783.3" r="1.95" fill="#472d7b" stroke="none"/>
<path d="M130.5 784.7L128.2 780.7" stroke="#3e4989" stroke-width="3.9" stroke-linecap="butt"/>
<circle cx="130.5" cy="784.7" r="1.95" fill="#3e4989" stroke="none"/>
<path d="M128.2 780.7L129.2 777.1" stroke="#38588c" stroke-width="3.9" stroke-linecap="butt"/>
<circle cx="128.2" cy="780.7" r="1.95" fill="#38588c" stroke="none"/>
<path d="M129.2 777.1L132.6 775.7" stroke="#33638d" stroke-width="3.9" stroke-linecap="butt"/>
<circle cx="129.2" cy="777.1" r="1.95" fill="#33638d" stroke="none"/>
<path d="M132.6 775.7L139.1 775.7" stroke="#2e6d8e" stroke-width="3.9" stroke-linecap="butt"/>
<circle cx="132.6" cy="775.7" r="1.95" fill="#2e6d8e" stroke="none"/>
<path d="M139.1 775.7L150.2 776.7" stroke="#2c728e" stroke-width="3.9" stroke-linecap="butt"/>
<circle cx="139.1" cy="775.7" r="1.95" fill="#2c728e" stroke="none"/>
<path d="M150.2 776.7L152.6 776.9" stroke="#26828e" stroke-width="3.9" stroke-linecap="butt"/>
<circle cx="150.2" cy="776.7" r="1.95" fill="#26828e" stroke="none"/>
<path d="M152.6 776.9L157.6 769.8" stroke="#228b8d" stroke-width="3.9" stroke-linecap="butt"/>
<circle cx="152.6" cy="776.9" r="1.95" fill="#228b8d" stroke="none"/>
<path d="M157.6 769.8L157.9 767.1" stroke="#1f968b" stroke-width="3.9" stroke-linecap="butt"/>
<circle cx="157.6" cy="769.8" r="1.95" fill="#1f968b" stroke="none"/>
<path d="M157.9 767.1L155.6 765.4" stroke="#1fa187" stroke-width="3.9" stroke-linecap="butt"/>
<circle cx="157.9" cy="767.1" r="1.95" fill="#1fa187" stroke="none"/>
<path d="M155.6 765.4L150.2 765.7" stroke="#25ab82" stroke-width="3.9" stroke-linecap="butt"/>
<circle cx="155.6" cy="765.4" r="1.95" fill="#25ab82" stroke="none"/>
<path d="M150.2 765.7L141.6 766.1" stroke="#32b67a" stroke-width="3.9" stroke-linecap="butt"/>
<circle cx="150.2" cy="765.7" r="1.95" fill="#32b67a" stroke="none"/>
<path d="M141.6 766.1L147.9 767.3" stroke="#44bf70" stroke-width="3.9" stroke-linecap="butt"/>
<circle cx="141.6" cy="766.1" r="1.95" fill="#44bf70" stroke="none"/>
<path d="M147.9 767.3L131.8 795.5" stroke="#6ccd5a" stroke-width="3.9" stroke-linecap="butt"/>
<circle cx="147.9" cy="767.3" r="1.95" fill="#6ccd5a" stroke="none"/>
<path d="M131.8 795.5L134.1 790.7" stroke="#a8db34" stroke-width="3.9" stroke-linecap="butt"/>
<circle cx="131.8" cy="795.5" r="1.95" fill="#a8db34" stroke="none"/>
<path d="M134.1 790.7L134.8 786.7" stroke="#cde11d" stroke-width="3.9" stroke-linecap="butt"/>
<circle cx="134.1" cy="790.7" r="1.95" fill="#cde11d" stroke="none"/>
<path d="M134.8 786.7L133.6 783.2" stroke="#e2e418" stroke-width="3.9" stroke-linecap="butt"/>
<circle cx="134.8" cy="786.7" r="1.95" fill="#e2e418" stroke="none"/>
<path d="M133.6 783.2L132.6 780.3" stroke="#f1e51d" stroke-width="3.9" stroke-linecap="butt"/>
<circle cx="133.6" cy="783.2" r="1.95" fill="#f1e51d" stroke="none"/>
</g>
<path d="M91.5 704.5H245.5V858.5H91.5Z" fill="none" stroke="#000" stroke-width="1.11"/>
<text x="166" y="682" font-size="12.5" font-weight="bold" text-anchor="middle">Wind Profile</text>
<text x="170.5" y="697.1" font-size="12.5" font-weight="bold" text-anchor="middle">10m/s increment</text>
</svg></body></html>
